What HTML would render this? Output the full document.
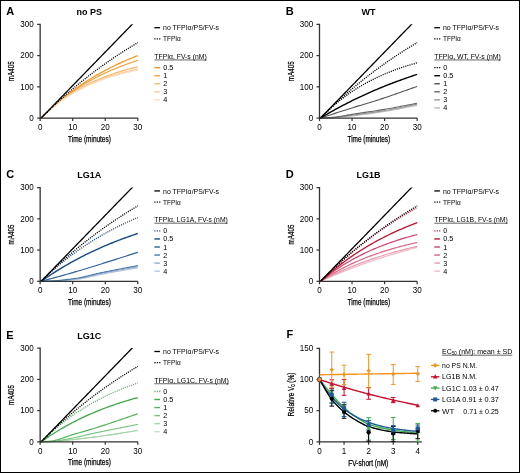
<!DOCTYPE html><html><head><meta charset="utf-8"><style>html,body{margin:0;padding:0;background:#fff;width:520px;height:473px;overflow:hidden}</style></head><body><svg width="520" height="473" viewBox="0 0 520 473" style="display:block;filter:blur(0.3px);font-family:'Liberation Sans',sans-serif">
<rect x="0" y="0" width="520" height="473" fill="#fff"/>
<clipPath id="clipA"><rect x="39.15" y="24.29" width="110" height="96"/></clipPath>
<text x="6.35" y="14.86" font-size="11" font-weight="700" text-anchor="start" fill="#000" >A</text>
<text x="89.15" y="15.06" font-size="9" font-weight="700" text-anchor="middle" fill="#000" >no PS</text>
<g clip-path="url(#clipA)" fill="none" stroke-linecap="butt">
<path d="M40.15,118.06 L41.78,117.41 L43.41,115.79 L45.03,114.20 L46.66,112.64 L48.29,111.10 L49.91,109.59 L51.54,108.10 L53.17,106.63 L54.80,105.19 L56.42,103.77 L58.05,102.37 L59.68,101.00 L61.31,99.65 L62.94,98.32 L64.56,97.01 L66.19,95.73 L67.82,94.46 L69.44,93.22 L71.07,91.99 L72.70,90.78 L74.33,89.60 L75.96,88.43 L77.58,87.28 L79.21,86.15 L80.84,85.04 L82.47,83.95 L84.09,82.87 L85.72,81.81 L87.35,80.77 L88.97,79.75 L90.60,78.74 L92.23,77.74 L93.86,76.77 L95.49,75.81 L97.11,74.86 L98.74,73.93 L100.37,73.02 L102.00,72.12 L103.62,71.23 L105.25,70.36 L106.88,69.50 L108.50,68.66 L110.13,67.83 L111.76,67.02 L113.39,66.21 L115.02,65.42 L116.64,64.64 L118.27,63.88 L119.90,63.13 L121.53,62.39 L123.15,61.66 L124.78,60.94 L126.41,60.24 L128.03,59.54 L129.66,58.86 L131.29,58.19 L132.92,57.53 L134.55,56.88 L136.17,56.24 L137.80,55.61" stroke="#f7941d" stroke-width="1.2"/>
<path d="M40.15,118.06 L41.78,117.41 L43.41,115.80 L45.03,114.22 L46.66,112.67 L48.29,111.15 L49.91,109.66 L51.54,108.20 L53.17,106.76 L54.80,105.36 L56.42,103.98 L58.05,102.63 L59.68,101.30 L61.31,100.00 L62.94,98.73 L64.56,97.48 L66.19,96.25 L67.82,95.05 L69.44,93.87 L71.07,92.72 L72.70,91.58 L74.33,90.47 L75.96,89.38 L77.58,88.31 L79.21,87.26 L80.84,86.23 L82.47,85.22 L84.09,84.23 L85.72,83.26 L87.35,82.31 L88.97,81.38 L90.60,80.47 L92.23,79.57 L93.86,78.69 L95.49,77.82 L97.11,76.98 L98.74,76.15 L100.37,75.33 L102.00,74.54 L103.62,73.75 L105.25,72.99 L106.88,72.23 L108.50,71.49 L110.13,70.77 L111.76,70.06 L113.39,69.36 L115.02,68.68 L116.64,68.01 L118.27,67.35 L119.90,66.71 L121.53,66.08 L123.15,65.46 L124.78,64.85 L126.41,64.26 L128.03,63.67 L129.66,63.10 L131.29,62.54 L132.92,61.98 L134.55,61.44 L136.17,60.91 L137.80,60.39" stroke="#f8a23e" stroke-width="1.2"/>
<path d="M40.15,118.06 L41.78,117.41 L43.41,115.80 L45.03,114.24 L46.66,112.71 L48.29,111.22 L49.91,109.77 L51.54,108.35 L53.17,106.97 L54.80,105.61 L56.42,104.30 L58.05,103.01 L59.68,101.76 L61.31,100.53 L62.94,99.34 L64.56,98.17 L66.19,97.03 L67.82,95.92 L69.44,94.84 L71.07,93.78 L72.70,92.75 L74.33,91.74 L75.96,90.76 L77.58,89.80 L79.21,88.87 L80.84,87.95 L82.47,87.06 L84.09,86.19 L85.72,85.35 L87.35,84.52 L88.97,83.71 L90.60,82.92 L92.23,82.15 L93.86,81.40 L95.49,80.67 L97.11,79.96 L98.74,79.26 L100.37,78.58 L102.00,77.92 L103.62,77.27 L105.25,76.64 L106.88,76.02 L108.50,75.42 L110.13,74.83 L111.76,74.26 L113.39,73.70 L115.02,73.15 L116.64,72.62 L118.27,72.10 L119.90,71.59 L121.53,71.10 L123.15,70.62 L124.78,70.14 L126.41,69.68 L128.03,69.24 L129.66,68.80 L131.29,68.37 L132.92,67.95 L134.55,67.55 L136.17,67.15 L137.80,66.76" stroke="#fab66b" stroke-width="1.2"/>
<path d="M40.15,118.06 L41.78,117.41 L43.41,115.81 L45.03,114.25 L46.66,112.73 L48.29,111.25 L49.91,109.81 L51.54,108.41 L53.17,107.05 L54.80,105.72 L56.42,104.42 L58.05,103.16 L59.68,101.93 L61.31,100.74 L62.94,99.57 L64.56,98.44 L66.19,97.33 L67.82,96.26 L69.44,95.21 L71.07,94.19 L72.70,93.20 L74.33,92.23 L75.96,91.29 L77.58,90.37 L79.21,89.48 L80.84,88.60 L82.47,87.76 L84.09,86.93 L85.72,86.13 L87.35,85.35 L88.97,84.58 L90.60,83.84 L92.23,83.12 L93.86,82.41 L95.49,81.73 L97.11,81.06 L98.74,80.41 L100.37,79.78 L102.00,79.16 L103.62,78.56 L105.25,77.98 L106.88,77.41 L108.50,76.85 L110.13,76.31 L111.76,75.79 L113.39,75.27 L115.02,74.78 L116.64,74.29 L118.27,73.82 L119.90,73.36 L121.53,72.91 L123.15,72.47 L124.78,72.05 L126.41,71.63 L128.03,71.23 L129.66,70.83 L131.29,70.45 L132.92,70.08 L134.55,69.72 L136.17,69.36 L137.80,69.02" stroke="#fcca95" stroke-width="1.2"/>
<path d="M40.15,118.06 L41.78,117.41 L43.41,115.81 L45.03,114.25 L46.66,112.74 L48.29,111.27 L49.91,109.83 L51.54,108.44 L53.17,107.08 L54.80,105.77 L56.42,104.48 L58.05,103.23 L59.68,102.02 L61.31,100.84 L62.94,99.69 L64.56,98.57 L66.19,97.48 L67.82,96.42 L69.44,95.39 L71.07,94.39 L72.70,93.41 L74.33,92.47 L75.96,91.54 L77.58,90.65 L79.21,89.77 L80.84,88.92 L82.47,88.10 L84.09,87.29 L85.72,86.51 L87.35,85.75 L88.97,85.01 L90.60,84.29 L92.23,83.59 L93.86,82.91 L95.49,82.24 L97.11,81.60 L98.74,80.97 L100.37,80.36 L102.00,79.76 L103.62,79.19 L105.25,78.62 L106.88,78.08 L108.50,77.54 L110.13,77.03 L111.76,76.52 L113.39,76.03 L115.02,75.56 L116.64,75.09 L118.27,74.64 L119.90,74.20 L121.53,73.77 L123.15,73.36 L124.78,72.95 L126.41,72.56 L128.03,72.18 L129.66,71.81 L131.29,71.44 L132.92,71.09 L134.55,70.75 L136.17,70.41 L137.80,70.09" stroke="#fddcb8" stroke-width="1.2"/>
<path d="M40.15,118.06 L41.78,117.41 L43.41,115.78 L45.03,114.17 L46.66,112.57 L48.29,110.99 L49.91,109.42 L51.54,107.87 L53.17,106.32 L54.80,104.80 L56.42,103.29 L58.05,101.79 L59.68,100.30 L61.31,98.83 L62.94,97.37 L64.56,95.92 L66.19,94.49 L67.82,93.07 L69.44,91.66 L71.07,90.26 L72.70,88.88 L74.33,87.51 L75.96,86.15 L77.58,84.81 L79.21,83.47 L80.84,82.15 L82.47,80.84 L84.09,79.54 L85.72,78.25 L87.35,76.98 L88.97,75.72 L90.60,74.46 L92.23,73.22 L93.86,71.99 L95.49,70.77 L97.11,69.56 L98.74,68.37 L100.37,67.18 L102.00,66.00 L103.62,64.84 L105.25,63.68 L106.88,62.54 L108.50,61.40 L110.13,60.28 L111.76,59.17 L113.39,58.06 L115.02,56.97 L116.64,55.88 L118.27,54.81 L119.90,53.74 L121.53,52.69 L123.15,51.64 L124.78,50.60 L126.41,49.58 L128.03,48.56 L129.66,47.55 L131.29,46.55 L132.92,45.56 L134.55,44.58 L136.17,43.60 L137.80,42.64" stroke="#000" stroke-width="1.3" stroke-dasharray="1.1 1.1"/>
<path d="M40.15,118.06 L41.78,117.39 L43.41,115.71 L45.03,114.04 L46.66,112.36 L48.29,110.69 L49.91,109.01 L51.54,107.34 L53.17,105.66 L54.80,103.99 L56.42,102.31 L58.05,100.64 L59.68,98.96 L61.31,97.29 L62.94,95.61 L64.56,93.94 L66.19,92.26 L67.82,90.59 L69.44,88.91 L71.07,87.24 L72.70,85.56 L74.33,83.89 L75.96,82.21 L77.58,80.54 L79.21,78.86 L80.84,77.19 L82.47,75.51 L84.09,73.84 L85.72,72.16 L87.35,70.49 L88.97,68.81 L90.60,67.14 L92.23,65.46 L93.86,63.79 L95.49,62.11 L97.11,60.44 L98.74,58.76 L100.37,57.09 L102.00,55.41 L103.62,53.73 L105.25,52.06 L106.88,50.38 L108.50,48.71 L110.13,47.03 L111.76,45.36 L113.39,43.68 L115.02,42.01 L116.64,40.33 L118.27,38.66 L119.90,36.98 L121.53,35.31 L123.15,33.63 L124.78,31.96 L126.41,30.28 L128.03,28.61 L129.66,26.93 L131.29,25.26 L132.92,23.58 L134.55,21.91 L136.17,20.23 L137.80,18.56" stroke="#000" stroke-width="1.3"/>
</g>
<path d="M37.15,24.39 H40.15 V118.06 H137.8" fill="none" stroke="#333" stroke-width="1.3"/>
<path d="M37.15,86.84 H40.15" stroke="#333" stroke-width="1.2"/>
<path d="M37.15,55.61 H40.15" stroke="#333" stroke-width="1.2"/>
<path d="M37.15,118.06 H40.15" stroke="#333" stroke-width="1.2"/>
<path d="M40.15,118.06 V121.06" stroke="#333" stroke-width="1.2"/>
<text transform="translate(40.15,129.76) scale(0.92,1)" font-size="8.8" font-weight="400" text-anchor="middle" fill="#000" >0</text>
<path d="M72.70,118.06 V121.06" stroke="#333" stroke-width="1.2"/>
<text transform="translate(72.70,129.76) scale(0.92,1)" font-size="8.8" font-weight="400" text-anchor="middle" fill="#000" >10</text>
<path d="M105.25,118.06 V121.06" stroke="#333" stroke-width="1.2"/>
<text transform="translate(105.25,129.76) scale(0.92,1)" font-size="8.8" font-weight="400" text-anchor="middle" fill="#000" >20</text>
<path d="M137.80,118.06 V121.06" stroke="#333" stroke-width="1.2"/>
<text transform="translate(137.80,129.76) scale(0.92,1)" font-size="8.8" font-weight="400" text-anchor="middle" fill="#000" >30</text>
<text transform="translate(33.85,120.76) scale(0.92,1)" font-size="8.8" font-weight="400" text-anchor="end" fill="#000" >0</text>
<text transform="translate(33.85,89.54) scale(0.92,1)" font-size="8.8" font-weight="400" text-anchor="end" fill="#000" >100</text>
<text transform="translate(33.85,58.31) scale(0.92,1)" font-size="8.8" font-weight="400" text-anchor="end" fill="#000" >200</text>
<text transform="translate(33.85,27.09) scale(0.92,1)" font-size="8.8" font-weight="400" text-anchor="end" fill="#000" >300</text>
<text x="89.45" y="141.66" font-size="8.6" font-weight="400" text-anchor="middle" fill="#000" stroke="#000" stroke-width="0.25" textLength="42.7" lengthAdjust="spacingAndGlyphs" >Time (minutes)</text>
<text transform="translate(14.25,71.26) rotate(-90)" x="0" y="0" font-size="9.8" text-anchor="middle" fill="#000" stroke="#000" stroke-width="0.25" textLength="19.8" lengthAdjust="spacingAndGlyphs">mA405</text>
<path d="M154.35,27.70 h5.6" stroke="#000" stroke-width="1.3"/>
<text x="163.05" y="30.30" font-size="7.9" font-weight="400" text-anchor="start" fill="#000" textLength="56.0" lengthAdjust="spacingAndGlyphs" >no TFPIα/PS/FV-s</text>
<path d="M154.35,38.80 h6" stroke="#000" stroke-width="1.3" stroke-dasharray="1.2 1.2"/>
<text x="163.05" y="41.40" font-size="7.9" font-weight="400" text-anchor="start" fill="#000" textLength="17.8" lengthAdjust="spacingAndGlyphs" >TFPIα</text>
<text x="154.35" y="59.16" font-size="7.9" font-weight="400" text-anchor="start" fill="#000" textLength="52.3" lengthAdjust="spacingAndGlyphs" >TFPIα, FV-s (nM)</text>
<path d="M154.35,59.96 h52.3" stroke="#000" stroke-width="0.6"/>
<path d="M154.35,67.66 h5.6" stroke="#f7941d" stroke-width="1.4"/>
<text x="163.25" y="70.16" font-size="7.3" font-weight="400" text-anchor="start" fill="#000" >0.5</text>
<path d="M154.35,75.71 h5.6" stroke="#f8a23e" stroke-width="1.4"/>
<text x="163.25" y="78.21" font-size="7.3" font-weight="400" text-anchor="start" fill="#000" >1</text>
<path d="M154.35,83.76 h5.6" stroke="#fab66b" stroke-width="1.4"/>
<text x="163.25" y="86.26" font-size="7.3" font-weight="400" text-anchor="start" fill="#000" >2</text>
<path d="M154.35,91.81 h5.6" stroke="#fcca95" stroke-width="1.4"/>
<text x="163.25" y="94.31" font-size="7.3" font-weight="400" text-anchor="start" fill="#000" >3</text>
<path d="M154.35,99.86 h5.6" stroke="#fddcb8" stroke-width="1.4"/>
<text x="163.25" y="102.36" font-size="7.3" font-weight="400" text-anchor="start" fill="#000" >4</text>
<clipPath id="clipB"><rect x="318.5" y="24.29" width="110" height="96"/></clipPath>
<text x="285.70" y="14.86" font-size="11" font-weight="700" text-anchor="start" fill="#000" >B</text>
<text x="368.50" y="15.06" font-size="9" font-weight="700" text-anchor="middle" fill="#000" >WT</text>
<g clip-path="url(#clipB)" fill="none" stroke-linecap="butt">
<path d="M319.50,118.06 L321.13,118.05 L322.75,118.03 L324.38,118.01 L326.01,117.98 L327.64,117.96 L329.26,117.93 L330.89,117.89 L332.52,117.82 L334.15,117.73 L335.77,117.62 L337.40,117.49 L339.03,117.35 L340.66,117.19 L342.29,117.01 L343.91,116.83 L345.54,116.65 L347.17,116.46 L348.80,116.27 L350.42,116.08 L352.05,115.89 L353.68,115.71 L355.31,115.53 L356.93,115.34 L358.56,115.14 L360.19,114.95 L361.81,114.74 L363.44,114.53 L365.07,114.32 L366.70,114.11 L368.32,113.89 L369.95,113.66 L371.58,113.43 L373.21,113.20 L374.84,112.96 L376.46,112.72 L378.09,112.48 L379.72,112.23 L381.35,111.98 L382.97,111.73 L384.60,111.47 L386.23,111.21 L387.86,110.94 L389.48,110.66 L391.11,110.38 L392.74,110.08 L394.37,109.78 L395.99,109.48 L397.62,109.17 L399.25,108.85 L400.88,108.53 L402.50,108.21 L404.13,107.88 L405.76,107.55 L407.38,107.23 L409.01,106.90 L410.64,106.57 L412.27,106.25 L413.89,105.93 L415.52,105.61 L417.15,105.29" stroke="#bbb" stroke-width="1.1"/>
<path d="M319.50,118.06 L321.13,118.04 L322.75,117.99 L324.38,117.95 L326.01,117.90 L327.64,117.85 L329.26,117.79 L330.89,117.72 L332.52,117.61 L334.15,117.49 L335.77,117.34 L337.40,117.17 L339.03,116.98 L340.66,116.78 L342.29,116.57 L343.91,116.35 L345.54,116.12 L347.17,115.89 L348.80,115.66 L350.42,115.44 L352.05,115.22 L353.68,115.01 L355.31,114.80 L356.93,114.59 L358.56,114.38 L360.19,114.16 L361.81,113.94 L363.44,113.72 L365.07,113.50 L366.70,113.27 L368.32,113.05 L369.95,112.81 L371.58,112.58 L373.21,112.34 L374.84,112.10 L376.46,111.86 L378.09,111.61 L379.72,111.35 L381.35,111.10 L382.97,110.84 L384.60,110.57 L386.23,110.30 L387.86,110.02 L389.48,109.73 L391.11,109.44 L392.74,109.13 L394.37,108.82 L395.99,108.51 L397.62,108.19 L399.25,107.86 L400.88,107.53 L402.50,107.20 L404.13,106.87 L405.76,106.53 L407.38,106.19 L409.01,105.86 L410.64,105.52 L412.27,105.19 L413.89,104.86 L415.52,104.53 L417.15,104.20" stroke="#999" stroke-width="1.1"/>
<path d="M319.50,118.06 L321.13,118.03 L322.75,117.96 L324.38,117.89 L326.01,117.82 L327.64,117.74 L329.26,117.65 L330.89,117.54 L332.52,117.40 L334.15,117.23 L335.77,117.03 L337.40,116.80 L339.03,116.55 L340.66,116.29 L342.29,116.02 L343.91,115.73 L345.54,115.45 L347.17,115.16 L348.80,114.88 L350.42,114.60 L352.05,114.34 L353.68,114.09 L355.31,113.85 L356.93,113.60 L358.56,113.36 L360.19,113.12 L361.81,112.88 L363.44,112.64 L365.07,112.39 L366.70,112.15 L368.32,111.91 L369.95,111.66 L371.58,111.42 L373.21,111.17 L374.84,110.92 L376.46,110.67 L378.09,110.41 L379.72,110.15 L381.35,109.89 L382.97,109.63 L384.60,109.36 L386.23,109.08 L387.86,108.80 L389.48,108.52 L391.11,108.22 L392.74,107.93 L394.37,107.63 L395.99,107.33 L397.62,107.02 L399.25,106.71 L400.88,106.40 L402.50,106.08 L404.13,105.77 L405.76,105.45 L407.38,105.14 L409.01,104.82 L410.64,104.51 L412.27,104.19 L413.89,103.88 L415.52,103.57 L417.15,103.26" stroke="#6a6a6a" stroke-width="1.1"/>
<path d="M319.50,118.06 L321.13,117.85 L322.75,117.33 L324.38,116.80 L326.01,116.28 L327.64,115.75 L329.26,115.22 L330.89,114.69 L332.52,114.17 L334.15,113.64 L335.77,113.11 L337.40,112.59 L339.03,112.06 L340.66,111.54 L342.29,111.01 L343.91,110.49 L345.54,109.97 L347.17,109.45 L348.80,108.93 L350.42,108.42 L352.05,107.91 L353.68,107.40 L355.31,106.89 L356.93,106.39 L358.56,105.90 L360.19,105.41 L361.81,104.92 L363.44,104.43 L365.07,103.95 L366.70,103.46 L368.32,102.97 L369.95,102.48 L371.58,101.98 L373.21,101.49 L374.84,100.98 L376.46,100.47 L378.09,99.95 L379.72,99.43 L381.35,98.89 L382.97,98.36 L384.60,97.81 L386.23,97.26 L387.86,96.71 L389.48,96.15 L391.11,95.59 L392.74,95.03 L394.37,94.46 L395.99,93.89 L397.62,93.32 L399.25,92.75 L400.88,92.17 L402.50,91.59 L404.13,91.02 L405.76,90.44 L407.38,89.86 L409.01,89.29 L410.64,88.71 L412.27,88.14 L413.89,87.56 L415.52,86.99 L417.15,86.43" stroke="#555" stroke-width="1.1"/>
<path d="M319.50,118.06 L321.13,117.67 L322.75,116.69 L324.38,115.72 L326.01,114.76 L327.64,113.81 L329.26,112.87 L330.89,111.94 L332.52,111.02 L334.15,110.11 L335.77,109.21 L337.40,108.32 L339.03,107.44 L340.66,106.57 L342.29,105.71 L343.91,104.85 L345.54,104.01 L347.17,103.17 L348.80,102.34 L350.42,101.53 L352.05,100.72 L353.68,99.91 L355.31,99.12 L356.93,98.33 L358.56,97.56 L360.19,96.79 L361.81,96.03 L363.44,95.27 L365.07,94.53 L366.70,93.79 L368.32,93.06 L369.95,92.34 L371.58,91.63 L373.21,90.92 L374.84,90.22 L376.46,89.53 L378.09,88.84 L379.72,88.16 L381.35,87.49 L382.97,86.83 L384.60,86.17 L386.23,85.52 L387.86,84.88 L389.48,84.24 L391.11,83.61 L392.74,82.99 L394.37,82.37 L395.99,81.76 L397.62,81.16 L399.25,80.56 L400.88,79.97 L402.50,79.39 L404.13,78.81 L405.76,78.23 L407.38,77.67 L409.01,77.11 L410.64,76.55 L412.27,76.00 L413.89,75.46 L415.52,74.92 L417.15,74.39" stroke="#000" stroke-width="1.4"/>
<path d="M319.50,118.06 L321.13,117.39 L322.75,115.74 L324.38,114.12 L326.01,112.55 L327.64,111.00 L329.26,109.49 L330.89,108.02 L332.52,106.58 L334.15,105.17 L335.77,103.79 L337.40,102.44 L339.03,101.12 L340.66,99.83 L342.29,98.57 L343.91,97.34 L345.54,96.14 L347.17,94.96 L348.80,93.81 L350.42,92.68 L352.05,91.58 L353.68,90.50 L355.31,89.45 L356.93,88.42 L358.56,87.41 L360.19,86.43 L361.81,85.47 L363.44,84.53 L365.07,83.61 L366.70,82.71 L368.32,81.83 L369.95,80.97 L371.58,80.13 L373.21,79.31 L374.84,78.50 L376.46,77.72 L378.09,76.95 L379.72,76.20 L381.35,75.47 L382.97,74.75 L384.60,74.05 L386.23,73.36 L387.86,72.69 L389.48,72.03 L391.11,71.39 L392.74,70.76 L394.37,70.15 L395.99,69.55 L397.62,68.96 L399.25,68.39 L400.88,67.83 L402.50,67.28 L404.13,66.75 L405.76,66.22 L407.38,65.71 L409.01,65.21 L410.64,64.72 L412.27,64.24 L413.89,63.77 L415.52,63.31 L417.15,62.87" stroke="#000" stroke-width="1.3" stroke-dasharray="1.1 1.1"/>
<path d="M319.50,118.06 L321.13,117.41 L322.75,115.78 L324.38,114.17 L326.01,112.57 L327.64,110.99 L329.26,109.42 L330.89,107.87 L332.52,106.32 L334.15,104.80 L335.77,103.29 L337.40,101.79 L339.03,100.30 L340.66,98.83 L342.29,97.37 L343.91,95.92 L345.54,94.49 L347.17,93.07 L348.80,91.66 L350.42,90.26 L352.05,88.88 L353.68,87.51 L355.31,86.15 L356.93,84.81 L358.56,83.47 L360.19,82.15 L361.81,80.84 L363.44,79.54 L365.07,78.25 L366.70,76.98 L368.32,75.72 L369.95,74.46 L371.58,73.22 L373.21,71.99 L374.84,70.77 L376.46,69.56 L378.09,68.37 L379.72,67.18 L381.35,66.00 L382.97,64.84 L384.60,63.68 L386.23,62.54 L387.86,61.40 L389.48,60.28 L391.11,59.17 L392.74,58.06 L394.37,56.97 L395.99,55.88 L397.62,54.81 L399.25,53.74 L400.88,52.69 L402.50,51.64 L404.13,50.60 L405.76,49.58 L407.38,48.56 L409.01,47.55 L410.64,46.55 L412.27,45.56 L413.89,44.58 L415.52,43.60 L417.15,42.64" stroke="#000" stroke-width="1.3" stroke-dasharray="1.1 1.1"/>
<path d="M319.50,118.06 L321.13,117.39 L322.75,115.71 L324.38,114.04 L326.01,112.36 L327.64,110.69 L329.26,109.01 L330.89,107.34 L332.52,105.66 L334.15,103.99 L335.77,102.31 L337.40,100.64 L339.03,98.96 L340.66,97.29 L342.29,95.61 L343.91,93.94 L345.54,92.26 L347.17,90.59 L348.80,88.91 L350.42,87.24 L352.05,85.56 L353.68,83.89 L355.31,82.21 L356.93,80.54 L358.56,78.86 L360.19,77.19 L361.81,75.51 L363.44,73.84 L365.07,72.16 L366.70,70.49 L368.32,68.81 L369.95,67.14 L371.58,65.46 L373.21,63.79 L374.84,62.11 L376.46,60.44 L378.09,58.76 L379.72,57.09 L381.35,55.41 L382.97,53.73 L384.60,52.06 L386.23,50.38 L387.86,48.71 L389.48,47.03 L391.11,45.36 L392.74,43.68 L394.37,42.01 L395.99,40.33 L397.62,38.66 L399.25,36.98 L400.88,35.31 L402.50,33.63 L404.13,31.96 L405.76,30.28 L407.38,28.61 L409.01,26.93 L410.64,25.26 L412.27,23.58 L413.89,21.91 L415.52,20.23 L417.15,18.56" stroke="#000" stroke-width="1.3"/>
</g>
<path d="M316.5,24.39 H319.5 V118.06 H417.15" fill="none" stroke="#333" stroke-width="1.3"/>
<path d="M316.5,86.84 H319.5" stroke="#333" stroke-width="1.2"/>
<path d="M316.5,55.61 H319.5" stroke="#333" stroke-width="1.2"/>
<path d="M316.5,118.06 H319.5" stroke="#333" stroke-width="1.2"/>
<path d="M319.50,118.06 V121.06" stroke="#333" stroke-width="1.2"/>
<text transform="translate(319.50,129.76) scale(0.92,1)" font-size="8.8" font-weight="400" text-anchor="middle" fill="#000" >0</text>
<path d="M352.05,118.06 V121.06" stroke="#333" stroke-width="1.2"/>
<text transform="translate(352.05,129.76) scale(0.92,1)" font-size="8.8" font-weight="400" text-anchor="middle" fill="#000" >10</text>
<path d="M384.60,118.06 V121.06" stroke="#333" stroke-width="1.2"/>
<text transform="translate(384.60,129.76) scale(0.92,1)" font-size="8.8" font-weight="400" text-anchor="middle" fill="#000" >20</text>
<path d="M417.15,118.06 V121.06" stroke="#333" stroke-width="1.2"/>
<text transform="translate(417.15,129.76) scale(0.92,1)" font-size="8.8" font-weight="400" text-anchor="middle" fill="#000" >30</text>
<text transform="translate(313.20,120.76) scale(0.92,1)" font-size="8.8" font-weight="400" text-anchor="end" fill="#000" >0</text>
<text transform="translate(313.20,89.54) scale(0.92,1)" font-size="8.8" font-weight="400" text-anchor="end" fill="#000" >100</text>
<text transform="translate(313.20,58.31) scale(0.92,1)" font-size="8.8" font-weight="400" text-anchor="end" fill="#000" >200</text>
<text transform="translate(313.20,27.09) scale(0.92,1)" font-size="8.8" font-weight="400" text-anchor="end" fill="#000" >300</text>
<text x="368.80" y="141.66" font-size="8.6" font-weight="400" text-anchor="middle" fill="#000" stroke="#000" stroke-width="0.25" textLength="42.7" lengthAdjust="spacingAndGlyphs" >Time (minutes)</text>
<text transform="translate(293.6,71.26) rotate(-90)" x="0" y="0" font-size="9.8" text-anchor="middle" fill="#000" stroke="#000" stroke-width="0.25" textLength="19.8" lengthAdjust="spacingAndGlyphs">mA405</text>
<path d="M434.3,27.70 h5.6" stroke="#000" stroke-width="1.3"/>
<text x="443.00" y="30.30" font-size="7.9" font-weight="400" text-anchor="start" fill="#000" textLength="56.0" lengthAdjust="spacingAndGlyphs" >no TFPIα/PS/FV-s</text>
<path d="M434.3,38.80 h6" stroke="#000" stroke-width="1.3" stroke-dasharray="1.2 1.2"/>
<text x="443.00" y="41.40" font-size="7.9" font-weight="400" text-anchor="start" fill="#000" textLength="17.8" lengthAdjust="spacingAndGlyphs" >TFPIα</text>
<text x="434.30" y="59.16" font-size="7.9" font-weight="400" text-anchor="start" fill="#000" textLength="66.5" lengthAdjust="spacingAndGlyphs" >TFPIα, WT, FV-s (nM)</text>
<path d="M434.3,59.96 h66.5" stroke="#000" stroke-width="0.6"/>
<path d="M434.3,67.66 h6" stroke="#000" stroke-width="1.4" stroke-dasharray="1.2 1.2"/>
<text x="443.20" y="70.16" font-size="7.3" font-weight="400" text-anchor="start" fill="#000" >0</text>
<path d="M434.3,75.71 h5.6" stroke="#000" stroke-width="1.4"/>
<text x="443.20" y="78.21" font-size="7.3" font-weight="400" text-anchor="start" fill="#000" >0.5</text>
<path d="M434.3,83.76 h5.6" stroke="#555" stroke-width="1.4"/>
<text x="443.20" y="86.26" font-size="7.3" font-weight="400" text-anchor="start" fill="#000" >1</text>
<path d="M434.3,91.81 h5.6" stroke="#6a6a6a" stroke-width="1.4"/>
<text x="443.20" y="94.31" font-size="7.3" font-weight="400" text-anchor="start" fill="#000" >2</text>
<path d="M434.3,99.86 h5.6" stroke="#999" stroke-width="1.4"/>
<text x="443.20" y="102.36" font-size="7.3" font-weight="400" text-anchor="start" fill="#000" >3</text>
<path d="M434.3,107.91 h5.6" stroke="#bbb" stroke-width="1.4"/>
<text x="443.20" y="110.41" font-size="7.3" font-weight="400" text-anchor="start" fill="#000" >4</text>
<clipPath id="clipC"><rect x="39.15" y="187.53" width="110" height="96"/></clipPath>
<text x="6.35" y="178.10" font-size="11" font-weight="700" text-anchor="start" fill="#000" >C</text>
<text x="89.15" y="178.30" font-size="9" font-weight="700" text-anchor="middle" fill="#000" >LG1A</text>
<g clip-path="url(#clipC)" fill="none" stroke-linecap="butt">
<path d="M40.15,281.30 L41.78,281.29 L43.41,281.27 L45.03,281.24 L46.66,281.22 L48.29,281.20 L49.91,281.17 L51.54,281.13 L53.17,281.08 L54.80,281.02 L56.42,280.95 L58.05,280.88 L59.68,280.79 L61.31,280.69 L62.94,280.59 L64.56,280.48 L66.19,280.36 L67.82,280.23 L69.44,280.10 L71.07,279.95 L72.70,279.81 L74.33,279.65 L75.96,279.49 L77.58,279.32 L79.21,279.11 L80.84,278.85 L82.47,278.57 L84.09,278.25 L85.72,277.91 L87.35,277.55 L88.97,277.17 L90.60,276.79 L92.23,276.40 L93.86,276.01 L95.49,275.63 L97.11,275.25 L98.74,274.90 L100.37,274.56 L102.00,274.24 L103.62,273.93 L105.25,273.62 L106.88,273.32 L108.50,273.02 L110.13,272.72 L111.76,272.42 L113.39,272.12 L115.02,271.83 L116.64,271.54 L118.27,271.25 L119.90,270.96 L121.53,270.67 L123.15,270.38 L124.78,270.09 L126.41,269.80 L128.03,269.51 L129.66,269.22 L131.29,268.93 L132.92,268.64 L134.55,268.35 L136.17,268.06 L137.80,267.77" stroke="#b5c7dc" stroke-width="1.1"/>
<path d="M40.15,281.30 L41.78,281.28 L43.41,281.25 L45.03,281.21 L46.66,281.17 L48.29,281.13 L49.91,281.08 L51.54,281.03 L53.17,280.95 L54.80,280.87 L56.42,280.78 L58.05,280.67 L59.68,280.55 L61.31,280.42 L62.94,280.28 L64.56,280.14 L66.19,279.98 L67.82,279.81 L69.44,279.64 L71.07,279.46 L72.70,279.28 L74.33,279.08 L75.96,278.88 L77.58,278.67 L79.21,278.42 L80.84,278.14 L82.47,277.82 L84.09,277.48 L85.72,277.11 L87.35,276.73 L88.97,276.33 L90.60,275.93 L92.23,275.53 L93.86,275.12 L95.49,274.73 L97.11,274.34 L98.74,273.97 L100.37,273.63 L102.00,273.30 L103.62,272.98 L105.25,272.67 L106.88,272.36 L108.50,272.05 L110.13,271.74 L111.76,271.44 L113.39,271.15 L115.02,270.85 L116.64,270.56 L118.27,270.27 L119.90,269.98 L121.53,269.69 L123.15,269.40 L124.78,269.11 L126.41,268.83 L128.03,268.54 L129.66,268.25 L131.29,267.97 L132.92,267.68 L134.55,267.39 L136.17,267.10 L137.80,266.80" stroke="#93adc9" stroke-width="1.1"/>
<path d="M40.15,281.30 L41.78,281.28 L43.41,281.23 L45.03,281.19 L46.66,281.14 L48.29,281.09 L49.91,281.03 L51.54,280.96 L53.17,280.87 L54.80,280.76 L56.42,280.64 L58.05,280.50 L59.68,280.34 L61.31,280.18 L62.94,280.00 L64.56,279.81 L66.19,279.62 L67.82,279.41 L69.44,279.19 L71.07,278.97 L72.70,278.74 L74.33,278.51 L75.96,278.27 L77.58,278.03 L79.21,277.75 L80.84,277.44 L82.47,277.11 L84.09,276.75 L85.72,276.38 L87.35,275.99 L88.97,275.59 L90.60,275.19 L92.23,274.78 L93.86,274.38 L95.49,273.98 L97.11,273.59 L98.74,273.21 L100.37,272.85 L102.00,272.51 L103.62,272.18 L105.25,271.84 L106.88,271.52 L108.50,271.19 L110.13,270.87 L111.76,270.55 L113.39,270.24 L115.02,269.92 L116.64,269.61 L118.27,269.30 L119.90,268.99 L121.53,268.68 L123.15,268.37 L124.78,268.07 L126.41,267.76 L128.03,267.45 L129.66,267.15 L131.29,266.84 L132.92,266.53 L134.55,266.22 L136.17,265.91 L137.80,265.60" stroke="#4a7aab" stroke-width="1.1"/>
<path d="M40.15,281.30 L41.78,281.13 L43.41,280.69 L45.03,280.26 L46.66,279.82 L48.29,279.39 L49.91,278.95 L51.54,278.52 L53.17,278.08 L54.80,277.64 L56.42,277.20 L58.05,276.75 L59.68,276.30 L61.31,275.85 L62.94,275.40 L64.56,274.94 L66.19,274.49 L67.82,274.03 L69.44,273.57 L71.07,273.11 L72.70,272.64 L74.33,272.17 L75.96,271.70 L77.58,271.23 L79.21,270.75 L80.84,270.26 L82.47,269.78 L84.09,269.28 L85.72,268.79 L87.35,268.28 L88.97,267.78 L90.60,267.27 L92.23,266.76 L93.86,266.25 L95.49,265.74 L97.11,265.23 L98.74,264.72 L100.37,264.21 L102.00,263.70 L103.62,263.19 L105.25,262.67 L106.88,262.16 L108.50,261.65 L110.13,261.13 L111.76,260.61 L113.39,260.10 L115.02,259.58 L116.64,259.06 L118.27,258.55 L119.90,258.03 L121.53,257.51 L123.15,256.99 L124.78,256.47 L126.41,255.95 L128.03,255.43 L129.66,254.91 L131.29,254.39 L132.92,253.88 L134.55,253.36 L136.17,252.84 L137.80,252.32" stroke="#2f639b" stroke-width="1.2"/>
<path d="M40.15,281.30 L41.78,280.84 L43.41,279.71 L45.03,278.58 L46.66,277.48 L48.29,276.38 L49.91,275.30 L51.54,274.24 L53.17,273.18 L54.80,272.15 L56.42,271.12 L58.05,270.11 L59.68,269.11 L61.31,268.12 L62.94,267.15 L64.56,266.18 L66.19,265.23 L67.82,264.30 L69.44,263.37 L71.07,262.45 L72.70,261.55 L74.33,260.66 L75.96,259.78 L77.58,258.91 L79.21,258.05 L80.84,257.21 L82.47,256.37 L84.09,255.55 L85.72,254.73 L87.35,253.93 L88.97,253.13 L90.60,252.35 L92.23,251.57 L93.86,250.81 L95.49,250.05 L97.11,249.31 L98.74,248.57 L100.37,247.85 L102.00,247.13 L103.62,246.42 L105.25,245.72 L106.88,245.03 L108.50,244.35 L110.13,243.68 L111.76,243.01 L113.39,242.36 L115.02,241.71 L116.64,241.07 L118.27,240.44 L119.90,239.81 L121.53,239.20 L123.15,238.59 L124.78,237.99 L126.41,237.40 L128.03,236.81 L129.66,236.24 L131.29,235.67 L132.92,235.10 L134.55,234.55 L136.17,234.00 L137.80,233.46" stroke="#164a87" stroke-width="1.4"/>
<path d="M40.15,281.30 L41.78,280.67 L43.41,279.09 L45.03,277.54 L46.66,276.02 L48.29,274.51 L49.91,273.03 L51.54,271.56 L53.17,270.12 L54.80,268.70 L56.42,267.30 L58.05,265.91 L59.68,264.55 L61.31,263.21 L62.94,261.88 L64.56,260.58 L66.19,259.29 L67.82,258.02 L69.44,256.77 L71.07,255.54 L72.70,254.33 L74.33,253.13 L75.96,251.95 L77.58,250.78 L79.21,249.63 L80.84,248.50 L82.47,247.39 L84.09,246.29 L85.72,245.20 L87.35,244.13 L88.97,243.08 L90.60,242.04 L92.23,241.02 L93.86,240.01 L95.49,239.01 L97.11,238.03 L98.74,237.07 L100.37,236.11 L102.00,235.17 L103.62,234.25 L105.25,233.33 L106.88,232.43 L108.50,231.54 L110.13,230.67 L111.76,229.81 L113.39,228.96 L115.02,228.12 L116.64,227.29 L118.27,226.48 L119.90,225.67 L121.53,224.88 L123.15,224.10 L124.78,223.33 L126.41,222.57 L128.03,221.83 L129.66,221.09 L131.29,220.36 L132.92,219.65 L134.55,218.94 L136.17,218.24 L137.80,217.56" stroke="#1d4f8c" stroke-width="1.3" stroke-dasharray="1.1 1.1"/>
<path d="M40.15,281.30 L41.78,280.65 L43.41,279.02 L45.03,277.41 L46.66,275.81 L48.29,274.23 L49.91,272.66 L51.54,271.11 L53.17,269.56 L54.80,268.04 L56.42,266.53 L58.05,265.03 L59.68,263.54 L61.31,262.07 L62.94,260.61 L64.56,259.16 L66.19,257.73 L67.82,256.31 L69.44,254.90 L71.07,253.50 L72.70,252.12 L74.33,250.75 L75.96,249.39 L77.58,248.05 L79.21,246.71 L80.84,245.39 L82.47,244.08 L84.09,242.78 L85.72,241.49 L87.35,240.22 L88.97,238.96 L90.60,237.70 L92.23,236.46 L93.86,235.23 L95.49,234.01 L97.11,232.80 L98.74,231.61 L100.37,230.42 L102.00,229.24 L103.62,228.08 L105.25,226.92 L106.88,225.78 L108.50,224.64 L110.13,223.52 L111.76,222.41 L113.39,221.30 L115.02,220.21 L116.64,219.12 L118.27,218.05 L119.90,216.98 L121.53,215.93 L123.15,214.88 L124.78,213.84 L126.41,212.82 L128.03,211.80 L129.66,210.79 L131.29,209.79 L132.92,208.80 L134.55,207.82 L136.17,206.84 L137.80,205.88" stroke="#000" stroke-width="1.3" stroke-dasharray="1.1 1.1"/>
<path d="M40.15,281.30 L41.78,280.63 L43.41,278.95 L45.03,277.28 L46.66,275.60 L48.29,273.93 L49.91,272.25 L51.54,270.58 L53.17,268.90 L54.80,267.23 L56.42,265.55 L58.05,263.88 L59.68,262.20 L61.31,260.53 L62.94,258.85 L64.56,257.18 L66.19,255.50 L67.82,253.83 L69.44,252.15 L71.07,250.48 L72.70,248.80 L74.33,247.13 L75.96,245.45 L77.58,243.78 L79.21,242.10 L80.84,240.43 L82.47,238.75 L84.09,237.08 L85.72,235.40 L87.35,233.73 L88.97,232.05 L90.60,230.38 L92.23,228.70 L93.86,227.03 L95.49,225.35 L97.11,223.68 L98.74,222.00 L100.37,220.33 L102.00,218.65 L103.62,216.97 L105.25,215.30 L106.88,213.62 L108.50,211.95 L110.13,210.27 L111.76,208.60 L113.39,206.92 L115.02,205.25 L116.64,203.57 L118.27,201.90 L119.90,200.22 L121.53,198.55 L123.15,196.87 L124.78,195.20 L126.41,193.52 L128.03,191.85 L129.66,190.17 L131.29,188.50 L132.92,186.82 L134.55,185.15 L136.17,183.47 L137.80,181.80" stroke="#000" stroke-width="1.3"/>
</g>
<path d="M37.15,187.63 H40.15 V281.3 H137.8" fill="none" stroke="#333" stroke-width="1.3"/>
<path d="M37.15,250.08 H40.15" stroke="#333" stroke-width="1.2"/>
<path d="M37.15,218.85 H40.15" stroke="#333" stroke-width="1.2"/>
<path d="M37.15,281.3 H40.15" stroke="#333" stroke-width="1.2"/>
<path d="M40.15,281.3 V284.3" stroke="#333" stroke-width="1.2"/>
<text transform="translate(40.15,293.00) scale(0.92,1)" font-size="8.8" font-weight="400" text-anchor="middle" fill="#000" >0</text>
<path d="M72.70,281.3 V284.3" stroke="#333" stroke-width="1.2"/>
<text transform="translate(72.70,293.00) scale(0.92,1)" font-size="8.8" font-weight="400" text-anchor="middle" fill="#000" >10</text>
<path d="M105.25,281.3 V284.3" stroke="#333" stroke-width="1.2"/>
<text transform="translate(105.25,293.00) scale(0.92,1)" font-size="8.8" font-weight="400" text-anchor="middle" fill="#000" >20</text>
<path d="M137.80,281.3 V284.3" stroke="#333" stroke-width="1.2"/>
<text transform="translate(137.80,293.00) scale(0.92,1)" font-size="8.8" font-weight="400" text-anchor="middle" fill="#000" >30</text>
<text transform="translate(33.85,284.00) scale(0.92,1)" font-size="8.8" font-weight="400" text-anchor="end" fill="#000" >0</text>
<text transform="translate(33.85,252.78) scale(0.92,1)" font-size="8.8" font-weight="400" text-anchor="end" fill="#000" >100</text>
<text transform="translate(33.85,221.55) scale(0.92,1)" font-size="8.8" font-weight="400" text-anchor="end" fill="#000" >200</text>
<text transform="translate(33.85,190.33) scale(0.92,1)" font-size="8.8" font-weight="400" text-anchor="end" fill="#000" >300</text>
<text x="89.45" y="304.90" font-size="8.6" font-weight="400" text-anchor="middle" fill="#000" stroke="#000" stroke-width="0.25" textLength="42.7" lengthAdjust="spacingAndGlyphs" >Time (minutes)</text>
<text transform="translate(14.25,234.5) rotate(-90)" x="0" y="0" font-size="9.8" text-anchor="middle" fill="#000" stroke="#000" stroke-width="0.25" textLength="19.8" lengthAdjust="spacingAndGlyphs">mA405</text>
<path d="M154.35,190.94 h5.6" stroke="#000" stroke-width="1.3"/>
<text x="163.05" y="193.54" font-size="7.9" font-weight="400" text-anchor="start" fill="#000" textLength="56.0" lengthAdjust="spacingAndGlyphs" >no TFPIα/PS/FV-s</text>
<path d="M154.35,202.04 h6" stroke="#000" stroke-width="1.3" stroke-dasharray="1.2 1.2"/>
<text x="163.05" y="204.64" font-size="7.9" font-weight="400" text-anchor="start" fill="#000" textLength="17.8" lengthAdjust="spacingAndGlyphs" >TFPIα</text>
<text x="154.35" y="222.40" font-size="7.9" font-weight="400" text-anchor="start" fill="#000" textLength="73.5" lengthAdjust="spacingAndGlyphs" >TFPIα, LG1A, FV-s (nM)</text>
<path d="M154.35,223.20 h73.5" stroke="#000" stroke-width="0.6"/>
<path d="M154.35,230.90 h6" stroke="#1d4f8c" stroke-width="1.4" stroke-dasharray="1.2 1.2"/>
<text x="163.25" y="233.40" font-size="7.3" font-weight="400" text-anchor="start" fill="#000" >0</text>
<path d="M154.35,238.95 h5.6" stroke="#164a87" stroke-width="1.4"/>
<text x="163.25" y="241.45" font-size="7.3" font-weight="400" text-anchor="start" fill="#000" >0.5</text>
<path d="M154.35,247.00 h5.6" stroke="#2f639b" stroke-width="1.4"/>
<text x="163.25" y="249.50" font-size="7.3" font-weight="400" text-anchor="start" fill="#000" >1</text>
<path d="M154.35,255.05 h5.6" stroke="#4a7aab" stroke-width="1.4"/>
<text x="163.25" y="257.55" font-size="7.3" font-weight="400" text-anchor="start" fill="#000" >2</text>
<path d="M154.35,263.10 h5.6" stroke="#93adc9" stroke-width="1.4"/>
<text x="163.25" y="265.60" font-size="7.3" font-weight="400" text-anchor="start" fill="#000" >3</text>
<path d="M154.35,271.15 h5.6" stroke="#b5c7dc" stroke-width="1.4"/>
<text x="163.25" y="273.65" font-size="7.3" font-weight="400" text-anchor="start" fill="#000" >4</text>
<clipPath id="clipD"><rect x="318.5" y="187.53" width="110" height="96"/></clipPath>
<text x="285.70" y="178.10" font-size="11" font-weight="700" text-anchor="start" fill="#000" >D</text>
<text x="368.50" y="178.30" font-size="9" font-weight="700" text-anchor="middle" fill="#000" >LG1B</text>
<g clip-path="url(#clipD)" fill="none" stroke-linecap="butt">
<path d="M319.50,281.30 L321.13,281.00 L322.75,280.27 L324.38,279.54 L326.01,278.81 L327.64,278.10 L329.26,277.39 L330.89,276.68 L332.52,275.99 L334.15,275.30 L335.77,274.61 L337.40,273.93 L339.03,273.26 L340.66,272.60 L342.29,271.94 L343.91,271.29 L345.54,270.64 L347.17,270.00 L348.80,269.36 L350.42,268.74 L352.05,268.11 L353.68,267.49 L355.31,266.88 L356.93,266.28 L358.56,265.68 L360.19,265.08 L361.81,264.49 L363.44,263.91 L365.07,263.33 L366.70,262.76 L368.32,262.19 L369.95,261.63 L371.58,261.07 L373.21,260.52 L374.84,259.97 L376.46,259.43 L378.09,258.90 L379.72,258.36 L381.35,257.84 L382.97,257.32 L384.60,256.80 L386.23,256.29 L387.86,255.78 L389.48,255.28 L391.11,254.78 L392.74,254.28 L394.37,253.80 L395.99,253.31 L397.62,252.83 L399.25,252.36 L400.88,251.89 L402.50,251.42 L404.13,250.96 L405.76,250.50 L407.38,250.05 L409.01,249.60 L410.64,249.15 L412.27,248.71 L413.89,248.27 L415.52,247.84 L417.15,247.41" stroke="#eebac6" stroke-width="1.2"/>
<path d="M319.50,281.30 L321.13,280.95 L322.75,280.09 L324.38,279.24 L326.01,278.40 L327.64,277.57 L329.26,276.76 L330.89,275.95 L332.52,275.16 L334.15,274.38 L335.77,273.61 L337.40,272.85 L339.03,272.10 L340.66,271.36 L342.29,270.64 L343.91,269.92 L345.54,269.21 L347.17,268.52 L348.80,267.83 L350.42,267.15 L352.05,266.49 L353.68,265.83 L355.31,265.18 L356.93,264.54 L358.56,263.91 L360.19,263.29 L361.81,262.68 L363.44,262.07 L365.07,261.48 L366.70,260.89 L368.32,260.32 L369.95,259.75 L371.58,259.18 L373.21,258.63 L374.84,258.08 L376.46,257.55 L378.09,257.01 L379.72,256.49 L381.35,255.98 L382.97,255.47 L384.60,254.97 L386.23,254.47 L387.86,253.99 L389.48,253.51 L391.11,253.03 L392.74,252.57 L394.37,252.11 L395.99,251.65 L397.62,251.21 L399.25,250.77 L400.88,250.33 L402.50,249.91 L404.13,249.48 L405.76,249.07 L407.38,248.66 L409.01,248.25 L410.64,247.86 L412.27,247.46 L413.89,247.08 L415.52,246.69 L417.15,246.32" stroke="#e79aac" stroke-width="1.2"/>
<path d="M319.50,281.30 L321.13,280.87 L322.75,279.80 L324.38,278.75 L326.01,277.72 L327.64,276.71 L329.26,275.72 L330.89,274.75 L332.52,273.79 L334.15,272.86 L335.77,271.94 L337.40,271.04 L339.03,270.15 L340.66,269.29 L342.29,268.43 L343.91,267.60 L345.54,266.78 L347.17,265.97 L348.80,265.18 L350.42,264.41 L352.05,263.65 L353.68,262.90 L355.31,262.17 L356.93,261.45 L358.56,260.75 L360.19,260.06 L361.81,259.38 L363.44,258.71 L365.07,258.06 L366.70,257.42 L368.32,256.79 L369.95,256.17 L371.58,255.57 L373.21,254.97 L374.84,254.39 L376.46,253.82 L378.09,253.25 L379.72,252.70 L381.35,252.16 L382.97,251.63 L384.60,251.11 L386.23,250.60 L387.86,250.10 L389.48,249.61 L391.11,249.12 L392.74,248.65 L394.37,248.19 L395.99,247.73 L397.62,247.28 L399.25,246.84 L400.88,246.41 L402.50,245.99 L404.13,245.57 L405.76,245.17 L407.38,244.77 L409.01,244.38 L410.64,243.99 L412.27,243.61 L413.89,243.24 L415.52,242.88 L417.15,242.52" stroke="#d96580" stroke-width="1.2"/>
<path d="M319.50,281.30 L321.13,280.77 L322.75,279.46 L324.38,278.17 L326.01,276.92 L327.64,275.68 L329.26,274.47 L330.89,273.28 L332.52,272.12 L334.15,270.98 L335.77,269.86 L337.40,268.76 L339.03,267.68 L340.66,266.63 L342.29,265.59 L343.91,264.58 L345.54,263.59 L347.17,262.61 L348.80,261.65 L350.42,260.72 L352.05,259.80 L353.68,258.89 L355.31,258.01 L356.93,257.14 L358.56,256.29 L360.19,255.46 L361.81,254.64 L363.44,253.84 L365.07,253.05 L366.70,252.28 L368.32,251.53 L369.95,250.79 L371.58,250.06 L373.21,249.35 L374.84,248.65 L376.46,247.96 L378.09,247.29 L379.72,246.63 L381.35,245.99 L382.97,245.35 L384.60,244.73 L386.23,244.12 L387.86,243.53 L389.48,242.94 L391.11,242.37 L392.74,241.81 L394.37,241.25 L395.99,240.71 L397.62,240.18 L399.25,239.66 L400.88,239.15 L402.50,238.65 L404.13,238.16 L405.76,237.68 L407.38,237.21 L409.01,236.75 L410.64,236.29 L412.27,235.85 L413.89,235.41 L415.52,234.98 L417.15,234.56" stroke="#d0406a" stroke-width="1.2"/>
<path d="M319.50,281.30 L321.13,280.70 L322.75,279.22 L324.38,277.77 L326.01,276.33 L327.64,274.92 L329.26,273.53 L330.89,272.16 L332.52,270.81 L334.15,269.48 L335.77,268.17 L337.40,266.89 L339.03,265.62 L340.66,264.37 L342.29,263.13 L343.91,261.92 L345.54,260.73 L347.17,259.55 L348.80,258.39 L350.42,257.25 L352.05,256.12 L353.68,255.02 L355.31,253.93 L356.93,252.85 L358.56,251.79 L360.19,250.75 L361.81,249.73 L363.44,248.72 L365.07,247.72 L366.70,246.74 L368.32,245.77 L369.95,244.82 L371.58,243.89 L373.21,242.96 L374.84,242.05 L376.46,241.16 L378.09,240.28 L379.72,239.41 L381.35,238.55 L382.97,237.71 L384.60,236.88 L386.23,236.07 L387.86,235.26 L389.48,234.47 L391.11,233.69 L392.74,232.92 L394.37,232.16 L395.99,231.42 L397.62,230.68 L399.25,229.96 L400.88,229.25 L402.50,228.54 L404.13,227.85 L405.76,227.17 L407.38,226.50 L409.01,225.84 L410.64,225.19 L412.27,224.55 L413.89,223.92 L415.52,223.30 L417.15,222.69" stroke="#c0102e" stroke-width="1.3"/>
<path d="M319.50,281.30 L321.13,280.65 L322.75,279.02 L324.38,277.41 L326.01,275.82 L327.64,274.24 L329.26,272.68 L330.89,271.13 L332.52,269.60 L334.15,268.08 L335.77,266.58 L337.40,265.09 L339.03,263.61 L340.66,262.15 L342.29,260.71 L343.91,259.28 L345.54,257.86 L347.17,256.46 L348.80,255.07 L350.42,253.69 L352.05,252.33 L353.68,250.98 L355.31,249.64 L356.93,248.31 L358.56,247.00 L360.19,245.70 L361.81,244.42 L363.44,243.15 L365.07,241.88 L366.70,240.64 L368.32,239.40 L369.95,238.17 L371.58,236.96 L373.21,235.76 L374.84,234.57 L376.46,233.39 L378.09,232.23 L379.72,231.07 L381.35,229.93 L382.97,228.79 L384.60,227.67 L386.23,226.56 L387.86,225.46 L389.48,224.37 L391.11,223.29 L392.74,222.22 L394.37,221.17 L395.99,220.12 L397.62,219.08 L399.25,218.05 L400.88,217.04 L402.50,216.03 L404.13,215.03 L405.76,214.04 L407.38,213.06 L409.01,212.09 L410.64,211.13 L412.27,210.18 L413.89,209.24 L415.52,208.31 L417.15,207.39" stroke="#c8102e" stroke-width="1.3" stroke-dasharray="1.1 1.1"/>
<path d="M319.50,281.30 L321.13,280.65 L322.75,279.02 L324.38,277.41 L326.01,275.81 L327.64,274.23 L329.26,272.66 L330.89,271.11 L332.52,269.56 L334.15,268.04 L335.77,266.53 L337.40,265.03 L339.03,263.54 L340.66,262.07 L342.29,260.61 L343.91,259.16 L345.54,257.73 L347.17,256.31 L348.80,254.90 L350.42,253.50 L352.05,252.12 L353.68,250.75 L355.31,249.39 L356.93,248.05 L358.56,246.71 L360.19,245.39 L361.81,244.08 L363.44,242.78 L365.07,241.49 L366.70,240.22 L368.32,238.96 L369.95,237.70 L371.58,236.46 L373.21,235.23 L374.84,234.01 L376.46,232.80 L378.09,231.61 L379.72,230.42 L381.35,229.24 L382.97,228.08 L384.60,226.92 L386.23,225.78 L387.86,224.64 L389.48,223.52 L391.11,222.41 L392.74,221.30 L394.37,220.21 L395.99,219.12 L397.62,218.05 L399.25,216.98 L400.88,215.93 L402.50,214.88 L404.13,213.84 L405.76,212.82 L407.38,211.80 L409.01,210.79 L410.64,209.79 L412.27,208.80 L413.89,207.82 L415.52,206.84 L417.15,205.88" stroke="#000" stroke-width="1.3" stroke-dasharray="1.1 1.1"/>
<path d="M319.50,281.30 L321.13,280.63 L322.75,278.95 L324.38,277.28 L326.01,275.60 L327.64,273.93 L329.26,272.25 L330.89,270.58 L332.52,268.90 L334.15,267.23 L335.77,265.55 L337.40,263.88 L339.03,262.20 L340.66,260.53 L342.29,258.85 L343.91,257.18 L345.54,255.50 L347.17,253.83 L348.80,252.15 L350.42,250.48 L352.05,248.80 L353.68,247.13 L355.31,245.45 L356.93,243.78 L358.56,242.10 L360.19,240.43 L361.81,238.75 L363.44,237.08 L365.07,235.40 L366.70,233.73 L368.32,232.05 L369.95,230.38 L371.58,228.70 L373.21,227.03 L374.84,225.35 L376.46,223.68 L378.09,222.00 L379.72,220.33 L381.35,218.65 L382.97,216.97 L384.60,215.30 L386.23,213.62 L387.86,211.95 L389.48,210.27 L391.11,208.60 L392.74,206.92 L394.37,205.25 L395.99,203.57 L397.62,201.90 L399.25,200.22 L400.88,198.55 L402.50,196.87 L404.13,195.20 L405.76,193.52 L407.38,191.85 L409.01,190.17 L410.64,188.50 L412.27,186.82 L413.89,185.15 L415.52,183.47 L417.15,181.80" stroke="#000" stroke-width="1.3"/>
</g>
<path d="M316.5,187.63 H319.5 V281.3 H417.15" fill="none" stroke="#333" stroke-width="1.3"/>
<path d="M316.5,250.08 H319.5" stroke="#333" stroke-width="1.2"/>
<path d="M316.5,218.85 H319.5" stroke="#333" stroke-width="1.2"/>
<path d="M316.5,281.3 H319.5" stroke="#333" stroke-width="1.2"/>
<path d="M319.50,281.3 V284.3" stroke="#333" stroke-width="1.2"/>
<text transform="translate(319.50,293.00) scale(0.92,1)" font-size="8.8" font-weight="400" text-anchor="middle" fill="#000" >0</text>
<path d="M352.05,281.3 V284.3" stroke="#333" stroke-width="1.2"/>
<text transform="translate(352.05,293.00) scale(0.92,1)" font-size="8.8" font-weight="400" text-anchor="middle" fill="#000" >10</text>
<path d="M384.60,281.3 V284.3" stroke="#333" stroke-width="1.2"/>
<text transform="translate(384.60,293.00) scale(0.92,1)" font-size="8.8" font-weight="400" text-anchor="middle" fill="#000" >20</text>
<path d="M417.15,281.3 V284.3" stroke="#333" stroke-width="1.2"/>
<text transform="translate(417.15,293.00) scale(0.92,1)" font-size="8.8" font-weight="400" text-anchor="middle" fill="#000" >30</text>
<text transform="translate(313.20,284.00) scale(0.92,1)" font-size="8.8" font-weight="400" text-anchor="end" fill="#000" >0</text>
<text transform="translate(313.20,252.78) scale(0.92,1)" font-size="8.8" font-weight="400" text-anchor="end" fill="#000" >100</text>
<text transform="translate(313.20,221.55) scale(0.92,1)" font-size="8.8" font-weight="400" text-anchor="end" fill="#000" >200</text>
<text transform="translate(313.20,190.33) scale(0.92,1)" font-size="8.8" font-weight="400" text-anchor="end" fill="#000" >300</text>
<text x="368.80" y="304.90" font-size="8.6" font-weight="400" text-anchor="middle" fill="#000" stroke="#000" stroke-width="0.25" textLength="42.7" lengthAdjust="spacingAndGlyphs" >Time (minutes)</text>
<text transform="translate(293.6,234.5) rotate(-90)" x="0" y="0" font-size="9.8" text-anchor="middle" fill="#000" stroke="#000" stroke-width="0.25" textLength="19.8" lengthAdjust="spacingAndGlyphs">mA405</text>
<path d="M434.3,190.94 h5.6" stroke="#000" stroke-width="1.3"/>
<text x="443.00" y="193.54" font-size="7.9" font-weight="400" text-anchor="start" fill="#000" textLength="56.0" lengthAdjust="spacingAndGlyphs" >no TFPIα/PS/FV-s</text>
<path d="M434.3,202.04 h6" stroke="#000" stroke-width="1.3" stroke-dasharray="1.2 1.2"/>
<text x="443.00" y="204.64" font-size="7.9" font-weight="400" text-anchor="start" fill="#000" textLength="17.8" lengthAdjust="spacingAndGlyphs" >TFPIα</text>
<text x="434.30" y="222.40" font-size="7.9" font-weight="400" text-anchor="start" fill="#000" textLength="73.5" lengthAdjust="spacingAndGlyphs" >TFPIα, LG1B, FV-s (nM)</text>
<path d="M434.3,223.20 h73.5" stroke="#000" stroke-width="0.6"/>
<path d="M434.3,230.90 h6" stroke="#c8102e" stroke-width="1.4" stroke-dasharray="1.2 1.2"/>
<text x="443.20" y="233.40" font-size="7.3" font-weight="400" text-anchor="start" fill="#000" >0</text>
<path d="M434.3,238.95 h5.6" stroke="#c0102e" stroke-width="1.4"/>
<text x="443.20" y="241.45" font-size="7.3" font-weight="400" text-anchor="start" fill="#000" >0.5</text>
<path d="M434.3,247.00 h5.6" stroke="#d0406a" stroke-width="1.4"/>
<text x="443.20" y="249.50" font-size="7.3" font-weight="400" text-anchor="start" fill="#000" >1</text>
<path d="M434.3,255.05 h5.6" stroke="#d96580" stroke-width="1.4"/>
<text x="443.20" y="257.55" font-size="7.3" font-weight="400" text-anchor="start" fill="#000" >2</text>
<path d="M434.3,263.10 h5.6" stroke="#e79aac" stroke-width="1.4"/>
<text x="443.20" y="265.60" font-size="7.3" font-weight="400" text-anchor="start" fill="#000" >3</text>
<path d="M434.3,271.15 h5.6" stroke="#eebac6" stroke-width="1.4"/>
<text x="443.20" y="273.65" font-size="7.3" font-weight="400" text-anchor="start" fill="#000" >4</text>
<clipPath id="clipE"><rect x="39.15" y="348.08" width="110" height="96"/></clipPath>
<text x="6.35" y="338.65" font-size="11" font-weight="700" text-anchor="start" fill="#000" >E</text>
<text x="89.15" y="338.85" font-size="9" font-weight="700" text-anchor="middle" fill="#000" >LG1C</text>
<g clip-path="url(#clipE)" fill="none" stroke-linecap="butt">
<path d="M40.15,441.85 L41.78,441.84 L43.41,441.81 L45.03,441.78 L46.66,441.76 L48.29,441.73 L49.91,441.69 L51.54,441.64 L53.17,441.57 L54.80,441.47 L56.42,441.36 L58.05,441.22 L59.68,441.07 L61.31,440.91 L62.94,440.73 L64.56,440.55 L66.19,440.36 L67.82,440.17 L69.44,439.98 L71.07,439.79 L72.70,439.61 L74.33,439.44 L75.96,439.26 L77.58,439.09 L79.21,438.91 L80.84,438.72 L82.47,438.53 L84.09,438.34 L85.72,438.15 L87.35,437.95 L88.97,437.75 L90.60,437.55 L92.23,437.34 L93.86,437.13 L95.49,436.92 L97.11,436.71 L98.74,436.49 L100.37,436.26 L102.00,436.04 L103.62,435.80 L105.25,435.57 L106.88,435.33 L108.50,435.09 L110.13,434.84 L111.76,434.60 L113.39,434.35 L115.02,434.10 L116.64,433.84 L118.27,433.59 L119.90,433.34 L121.53,433.08 L123.15,432.82 L124.78,432.57 L126.41,432.31 L128.03,432.05 L129.66,431.80 L131.29,431.54 L132.92,431.29 L134.55,431.04 L136.17,430.79 L137.80,430.54" stroke="#c5e6c8" stroke-width="1.1"/>
<path d="M40.15,441.85 L41.78,441.84 L43.41,441.81 L45.03,441.78 L46.66,441.76 L48.29,441.73 L49.91,441.69 L51.54,441.64 L53.17,441.57 L54.80,441.47 L56.42,441.36 L58.05,441.22 L59.68,441.07 L61.31,440.91 L62.94,440.73 L64.56,440.55 L66.19,440.36 L67.82,440.17 L69.44,439.98 L71.07,439.79 L72.70,439.61 L74.33,439.44 L75.96,439.26 L77.58,439.09 L79.21,438.91 L80.84,438.72 L82.47,438.53 L84.09,438.34 L85.72,438.15 L87.35,437.95 L88.97,437.75 L90.60,437.55 L92.23,437.34 L93.86,437.13 L95.49,436.92 L97.11,436.71 L98.74,436.49 L100.37,436.26 L102.00,436.04 L103.62,435.80 L105.25,435.57 L106.88,435.33 L108.50,435.09 L110.13,434.84 L111.76,434.60 L113.39,434.35 L115.02,434.10 L116.64,433.84 L118.27,433.59 L119.90,433.34 L121.53,433.08 L123.15,432.82 L124.78,432.57 L126.41,432.31 L128.03,432.05 L129.66,431.80 L131.29,431.54 L132.92,431.29 L134.55,431.04 L136.17,430.79 L137.80,430.54" stroke="#a0d5a5" stroke-width="1.1"/>
<path d="M40.15,441.85 L41.78,441.83 L43.41,441.77 L45.03,441.72 L46.66,441.66 L48.29,441.60 L49.91,441.53 L51.54,441.43 L53.17,441.30 L54.80,441.14 L56.42,440.94 L58.05,440.71 L59.68,440.45 L61.31,440.18 L62.94,439.89 L64.56,439.58 L66.19,439.26 L67.82,438.94 L69.44,438.62 L71.07,438.29 L72.70,437.98 L74.33,437.67 L75.96,437.34 L77.58,437.01 L79.21,436.65 L80.84,436.29 L82.47,435.92 L84.09,435.54 L85.72,435.16 L87.35,434.77 L88.97,434.39 L90.60,434.01 L92.23,433.63 L93.86,433.26 L95.49,432.91 L97.11,432.56 L98.74,432.22 L100.37,431.88 L102.00,431.54 L103.62,431.20 L105.25,430.87 L106.88,430.53 L108.50,430.20 L110.13,429.87 L111.76,429.55 L113.39,429.22 L115.02,428.90 L116.64,428.57 L118.27,428.25 L119.90,427.93 L121.53,427.60 L123.15,427.28 L124.78,426.96 L126.41,426.64 L128.03,426.32 L129.66,426.00 L131.29,425.67 L132.92,425.35 L134.55,425.03 L136.17,424.70 L137.80,424.37" stroke="#74c37b" stroke-width="1.1"/>
<path d="M40.15,441.85 L41.78,441.80 L43.41,441.68 L45.03,441.57 L46.66,441.46 L48.29,441.33 L49.91,441.18 L51.54,440.99 L53.17,440.73 L54.80,440.40 L56.42,440.00 L58.05,439.56 L59.68,439.07 L61.31,438.55 L62.94,438.00 L64.56,437.43 L66.19,436.85 L67.82,436.28 L69.44,435.72 L71.07,435.17 L72.70,434.65 L74.33,434.17 L75.96,433.69 L77.58,433.22 L79.21,432.75 L80.84,432.28 L82.47,431.81 L84.09,431.34 L85.72,430.87 L87.35,430.40 L88.97,429.92 L90.60,429.44 L92.23,428.95 L93.86,428.46 L95.49,427.96 L97.11,427.45 L98.74,426.94 L100.37,426.42 L102.00,425.90 L103.62,425.37 L105.25,424.84 L106.88,424.30 L108.50,423.76 L110.13,423.21 L111.76,422.66 L113.39,422.11 L115.02,421.56 L116.64,421.01 L118.27,420.45 L119.90,419.89 L121.53,419.33 L123.15,418.77 L124.78,418.21 L126.41,417.65 L128.03,417.09 L129.66,416.54 L131.29,415.98 L132.92,415.42 L134.55,414.87 L136.17,414.31 L137.80,413.77" stroke="#52b45c" stroke-width="1.2"/>
<path d="M40.15,441.85 L41.78,441.39 L43.41,440.24 L45.03,439.11 L46.66,438.00 L48.29,436.91 L49.91,435.83 L51.54,434.77 L53.17,433.73 L54.80,432.71 L56.42,431.70 L58.05,430.71 L59.68,429.74 L61.31,428.78 L62.94,427.83 L64.56,426.91 L66.19,425.99 L67.82,425.10 L69.44,424.21 L71.07,423.34 L72.70,422.49 L74.33,421.65 L75.96,420.82 L77.58,420.00 L79.21,419.20 L80.84,418.41 L82.47,417.64 L84.09,416.87 L85.72,416.12 L87.35,415.39 L88.97,414.66 L90.60,413.94 L92.23,413.24 L93.86,412.55 L95.49,411.87 L97.11,411.20 L98.74,410.54 L100.37,409.89 L102.00,409.25 L103.62,408.63 L105.25,408.01 L106.88,407.40 L108.50,406.81 L110.13,406.22 L111.76,405.64 L113.39,405.07 L115.02,404.51 L116.64,403.96 L118.27,403.42 L119.90,402.89 L121.53,402.36 L123.15,401.85 L124.78,401.34 L126.41,400.84 L128.03,400.35 L129.66,399.87 L131.29,399.39 L132.92,398.92 L134.55,398.46 L136.17,398.01 L137.80,397.57" stroke="#3aa948" stroke-width="1.3"/>
<path d="M40.15,441.85 L41.78,441.20 L43.41,439.61 L45.03,438.04 L46.66,436.50 L48.29,434.99 L49.91,433.51 L51.54,432.05 L53.17,430.62 L54.80,429.22 L56.42,427.84 L58.05,426.48 L59.68,425.15 L61.31,423.85 L62.94,422.57 L64.56,421.31 L66.19,420.07 L67.82,418.86 L69.44,417.67 L71.07,416.50 L72.70,415.35 L74.33,414.22 L75.96,413.11 L77.58,412.03 L79.21,410.96 L80.84,409.91 L82.47,408.88 L84.09,407.87 L85.72,406.88 L87.35,405.90 L88.97,404.95 L90.60,404.01 L92.23,403.08 L93.86,402.18 L95.49,401.29 L97.11,400.42 L98.74,399.56 L100.37,398.72 L102.00,397.89 L103.62,397.08 L105.25,396.28 L106.88,395.50 L108.50,394.73 L110.13,393.97 L111.76,393.23 L113.39,392.51 L115.02,391.79 L116.64,391.09 L118.27,390.40 L119.90,389.73 L121.53,389.06 L123.15,388.41 L124.78,387.77 L126.41,387.14 L128.03,386.52 L129.66,385.92 L131.29,385.32 L132.92,384.74 L134.55,384.17 L136.17,383.60 L137.80,383.05" stroke="#55b55c" stroke-width="1.3" stroke-dasharray="1.1 1.1"/>
<path d="M40.15,441.85 L41.78,441.20 L43.41,439.57 L45.03,437.96 L46.66,436.36 L48.29,434.78 L49.91,433.21 L51.54,431.66 L53.17,430.11 L54.80,428.59 L56.42,427.08 L58.05,425.58 L59.68,424.09 L61.31,422.62 L62.94,421.16 L64.56,419.71 L66.19,418.28 L67.82,416.86 L69.44,415.45 L71.07,414.05 L72.70,412.67 L74.33,411.30 L75.96,409.94 L77.58,408.60 L79.21,407.26 L80.84,405.94 L82.47,404.63 L84.09,403.33 L85.72,402.04 L87.35,400.77 L88.97,399.51 L90.60,398.25 L92.23,397.01 L93.86,395.78 L95.49,394.56 L97.11,393.35 L98.74,392.16 L100.37,390.97 L102.00,389.79 L103.62,388.63 L105.25,387.47 L106.88,386.33 L108.50,385.19 L110.13,384.07 L111.76,382.96 L113.39,381.85 L115.02,380.76 L116.64,379.67 L118.27,378.60 L119.90,377.53 L121.53,376.48 L123.15,375.43 L124.78,374.39 L126.41,373.37 L128.03,372.35 L129.66,371.34 L131.29,370.34 L132.92,369.35 L134.55,368.37 L136.17,367.39 L137.80,366.43" stroke="#000" stroke-width="1.3" stroke-dasharray="1.1 1.1"/>
<path d="M40.15,441.85 L41.78,441.18 L43.41,439.50 L45.03,437.83 L46.66,436.15 L48.29,434.48 L49.91,432.80 L51.54,431.13 L53.17,429.45 L54.80,427.78 L56.42,426.10 L58.05,424.43 L59.68,422.75 L61.31,421.08 L62.94,419.40 L64.56,417.73 L66.19,416.05 L67.82,414.38 L69.44,412.70 L71.07,411.03 L72.70,409.35 L74.33,407.68 L75.96,406.00 L77.58,404.33 L79.21,402.65 L80.84,400.98 L82.47,399.30 L84.09,397.63 L85.72,395.95 L87.35,394.28 L88.97,392.60 L90.60,390.93 L92.23,389.25 L93.86,387.58 L95.49,385.90 L97.11,384.23 L98.74,382.55 L100.37,380.88 L102.00,379.20 L103.62,377.52 L105.25,375.85 L106.88,374.17 L108.50,372.50 L110.13,370.82 L111.76,369.15 L113.39,367.47 L115.02,365.80 L116.64,364.12 L118.27,362.45 L119.90,360.77 L121.53,359.10 L123.15,357.42 L124.78,355.75 L126.41,354.07 L128.03,352.40 L129.66,350.72 L131.29,349.05 L132.92,347.37 L134.55,345.70 L136.17,344.02 L137.80,342.35" stroke="#000" stroke-width="1.3"/>
</g>
<path d="M37.15,348.18 H40.15 V441.85 H137.8" fill="none" stroke="#333" stroke-width="1.3"/>
<path d="M37.15,410.63 H40.15" stroke="#333" stroke-width="1.2"/>
<path d="M37.15,379.40 H40.15" stroke="#333" stroke-width="1.2"/>
<path d="M37.15,441.85 H40.15" stroke="#333" stroke-width="1.2"/>
<path d="M40.15,441.85 V444.85" stroke="#333" stroke-width="1.2"/>
<text transform="translate(40.15,453.55) scale(0.92,1)" font-size="8.8" font-weight="400" text-anchor="middle" fill="#000" >0</text>
<path d="M72.70,441.85 V444.85" stroke="#333" stroke-width="1.2"/>
<text transform="translate(72.70,453.55) scale(0.92,1)" font-size="8.8" font-weight="400" text-anchor="middle" fill="#000" >10</text>
<path d="M105.25,441.85 V444.85" stroke="#333" stroke-width="1.2"/>
<text transform="translate(105.25,453.55) scale(0.92,1)" font-size="8.8" font-weight="400" text-anchor="middle" fill="#000" >20</text>
<path d="M137.80,441.85 V444.85" stroke="#333" stroke-width="1.2"/>
<text transform="translate(137.80,453.55) scale(0.92,1)" font-size="8.8" font-weight="400" text-anchor="middle" fill="#000" >30</text>
<text transform="translate(33.85,444.55) scale(0.92,1)" font-size="8.8" font-weight="400" text-anchor="end" fill="#000" >0</text>
<text transform="translate(33.85,413.33) scale(0.92,1)" font-size="8.8" font-weight="400" text-anchor="end" fill="#000" >100</text>
<text transform="translate(33.85,382.10) scale(0.92,1)" font-size="8.8" font-weight="400" text-anchor="end" fill="#000" >200</text>
<text transform="translate(33.85,350.88) scale(0.92,1)" font-size="8.8" font-weight="400" text-anchor="end" fill="#000" >300</text>
<text x="89.45" y="465.45" font-size="8.6" font-weight="400" text-anchor="middle" fill="#000" stroke="#000" stroke-width="0.25" textLength="42.7" lengthAdjust="spacingAndGlyphs" >Time (minutes)</text>
<text transform="translate(14.25,395.05) rotate(-90)" x="0" y="0" font-size="9.8" text-anchor="middle" fill="#000" stroke="#000" stroke-width="0.25" textLength="19.8" lengthAdjust="spacingAndGlyphs">mA405</text>
<path d="M154.35,351.49 h5.6" stroke="#000" stroke-width="1.3"/>
<text x="163.05" y="354.09" font-size="7.9" font-weight="400" text-anchor="start" fill="#000" textLength="56.0" lengthAdjust="spacingAndGlyphs" >no TFPIα/PS/FV-s</text>
<path d="M154.35,362.59 h6" stroke="#000" stroke-width="1.3" stroke-dasharray="1.2 1.2"/>
<text x="163.05" y="365.19" font-size="7.9" font-weight="400" text-anchor="start" fill="#000" textLength="17.8" lengthAdjust="spacingAndGlyphs" >TFPIα</text>
<text x="154.35" y="382.95" font-size="7.9" font-weight="400" text-anchor="start" fill="#000" textLength="74.5" lengthAdjust="spacingAndGlyphs" >TFPIα, LG1C, FV-s (nM)</text>
<path d="M154.35,383.75 h74.5" stroke="#000" stroke-width="0.6"/>
<path d="M154.35,391.45 h6" stroke="#55b55c" stroke-width="1.4" stroke-dasharray="1.2 1.2"/>
<text x="163.25" y="393.95" font-size="7.3" font-weight="400" text-anchor="start" fill="#000" >0</text>
<path d="M154.35,399.50 h5.6" stroke="#3aa948" stroke-width="1.4"/>
<text x="163.25" y="402.00" font-size="7.3" font-weight="400" text-anchor="start" fill="#000" >0.5</text>
<path d="M154.35,407.55 h5.6" stroke="#52b45c" stroke-width="1.4"/>
<text x="163.25" y="410.05" font-size="7.3" font-weight="400" text-anchor="start" fill="#000" >1</text>
<path d="M154.35,415.60 h5.6" stroke="#74c37b" stroke-width="1.4"/>
<text x="163.25" y="418.10" font-size="7.3" font-weight="400" text-anchor="start" fill="#000" >2</text>
<path d="M154.35,423.65 h5.6" stroke="#a0d5a5" stroke-width="1.4"/>
<text x="163.25" y="426.15" font-size="7.3" font-weight="400" text-anchor="start" fill="#000" >3</text>
<path d="M154.35,431.70 h5.6" stroke="#c5e6c8" stroke-width="1.4"/>
<text x="163.25" y="434.20" font-size="7.3" font-weight="400" text-anchor="start" fill="#000" >4</text>
<text x="286.50" y="338.45" font-size="11" font-weight="700" text-anchor="start" fill="#000" >F</text>
<path d="M316.5,348.3 H319.5 V441.85 H421.78" fill="none" stroke="#333" stroke-width="1.3"/>
<path d="M316.5,441.85 H319.5" stroke="#333" stroke-width="1.2"/>
<path d="M316.5,410.67 H319.5" stroke="#333" stroke-width="1.2"/>
<path d="M316.5,379.48 H319.5" stroke="#333" stroke-width="1.2"/>
<text transform="translate(313.20,444.55) scale(0.92,1)" font-size="8.8" font-weight="400" text-anchor="end" fill="#000" >0</text>
<text transform="translate(313.20,413.37) scale(0.92,1)" font-size="8.8" font-weight="400" text-anchor="end" fill="#000" >50</text>
<text transform="translate(313.20,382.18) scale(0.92,1)" font-size="8.8" font-weight="400" text-anchor="end" fill="#000" >100</text>
<text transform="translate(313.20,351.00) scale(0.92,1)" font-size="8.8" font-weight="400" text-anchor="end" fill="#000" >150</text>
<path d="M319.50,441.85 V444.85" stroke="#333" stroke-width="1.2"/>
<text transform="translate(319.50,453.55) scale(0.92,1)" font-size="8.8" font-weight="400" text-anchor="middle" fill="#000" >0</text>
<path d="M344.07,441.85 V444.85" stroke="#333" stroke-width="1.2"/>
<text transform="translate(344.07,453.55) scale(0.92,1)" font-size="8.8" font-weight="400" text-anchor="middle" fill="#000" >1</text>
<path d="M368.64,441.85 V444.85" stroke="#333" stroke-width="1.2"/>
<text transform="translate(368.64,453.55) scale(0.92,1)" font-size="8.8" font-weight="400" text-anchor="middle" fill="#000" >2</text>
<path d="M393.21,441.85 V444.85" stroke="#333" stroke-width="1.2"/>
<text transform="translate(393.21,453.55) scale(0.92,1)" font-size="8.8" font-weight="400" text-anchor="middle" fill="#000" >3</text>
<path d="M417.78,441.85 V444.85" stroke="#333" stroke-width="1.2"/>
<text transform="translate(417.78,453.55) scale(0.92,1)" font-size="8.8" font-weight="400" text-anchor="middle" fill="#000" >4</text>
<text x="368.30" y="466.45" font-size="8.6" font-weight="400" text-anchor="middle" fill="#000" stroke="#000" stroke-width="0.25" textLength="40.0" lengthAdjust="spacingAndGlyphs" >FV-short (nM)</text>
<text transform="translate(293.9,394.45000000000005) rotate(-90)" font-size="9.2" text-anchor="middle" fill="#000" stroke="#000" stroke-width="0.25" textLength="44" lengthAdjust="spacingAndGlyphs">Relative V<tspan font-size="5" dy="1.5">0</tspan><tspan dy="-1.5"> (%)</tspan></text>
<path d="M331.79,403.18 V385.10 M329.49,403.18 h4.6 M329.49,385.10 h4.6" stroke="#3db049" stroke-width="1.0" fill="none"/>
<path d="M344.07,413.79 V406.30 M341.77,413.79 h4.6 M341.77,406.30 h4.6" stroke="#3db049" stroke-width="1.0" fill="none"/>
<path d="M368.64,440.04 V417.65 M366.34,440.04 h4.6 M366.34,417.65 h4.6" stroke="#3db049" stroke-width="1.0" fill="none"/>
<path d="M393.21,439.54 V417.53 M390.91,439.54 h4.6 M390.91,417.53 h4.6" stroke="#3db049" stroke-width="1.0" fill="none"/>
<path d="M417.78,441.23 V423.45 M415.48,441.23 h4.6 M415.48,423.45 h4.6" stroke="#3db049" stroke-width="1.0" fill="none"/>
<path d="M331.79,406.11 V390.71 M329.49,406.11 h4.6 M329.49,390.71 h4.6" stroke="#000" stroke-width="1.0" fill="none"/>
<path d="M344.07,418.28 V404.74 M341.77,418.28 h4.6 M341.77,404.74 h4.6" stroke="#000" stroke-width="1.0" fill="none"/>
<path d="M368.64,441.23 V426.26 M366.34,441.23 h4.6 M366.34,426.26 h4.6" stroke="#000" stroke-width="1.0" fill="none"/>
<path d="M393.21,441.35 V426.45 M390.91,441.35 h4.6 M390.91,426.45 h4.6" stroke="#000" stroke-width="1.0" fill="none"/>
<path d="M417.78,438.73 V428.13 M415.48,438.73 h4.6 M415.48,428.13 h4.6" stroke="#000" stroke-width="1.0" fill="none"/>
<path d="M331.79,403.00 V388.84 M329.49,403.00 h4.6 M329.49,388.84 h4.6" stroke="#1f5a96" stroke-width="1.0" fill="none"/>
<path d="M344.07,416.53 V402.25 M341.77,416.53 h4.6 M341.77,402.25 h4.6" stroke="#1f5a96" stroke-width="1.0" fill="none"/>
<path d="M368.64,430.00 V420.46 M366.34,430.00 h4.6 M366.34,420.46 h4.6" stroke="#1f5a96" stroke-width="1.0" fill="none"/>
<path d="M393.21,434.37 V425.63 M390.91,434.37 h4.6 M390.91,425.63 h4.6" stroke="#1f5a96" stroke-width="1.0" fill="none"/>
<path d="M417.78,432.50 V425.01 M415.48,432.50 h4.6 M415.48,425.01 h4.6" stroke="#1f5a96" stroke-width="1.0" fill="none"/>
<path d="M331.79,388.21 V379.80 M329.49,388.21 h4.6 M329.49,379.80 h4.6" stroke="#c8102e" stroke-width="1.0" fill="none"/>
<path d="M344.07,395.32 V379.48 M341.77,395.32 h4.6 M341.77,379.48 h4.6" stroke="#c8102e" stroke-width="1.0" fill="none"/>
<path d="M368.64,399.25 V387.59 M366.34,399.25 h4.6 M366.34,387.59 h4.6" stroke="#c8102e" stroke-width="1.0" fill="none"/>
<path d="M393.21,402.68 V397.44 M390.91,402.68 h4.6 M390.91,397.44 h4.6" stroke="#c8102e" stroke-width="1.0" fill="none"/>
<path d="M331.79,387.28 V352.04 M329.49,387.28 h4.6 M329.49,352.04 h4.6" stroke="#f7941d" stroke-width="1.0" fill="none"/>
<path d="M344.07,384.47 V365.14 M341.77,384.47 h4.6 M341.77,365.14 h4.6" stroke="#f7941d" stroke-width="1.0" fill="none"/>
<path d="M368.64,387.84 V354.29 M366.34,387.84 h4.6 M366.34,354.29 h4.6" stroke="#f7941d" stroke-width="1.0" fill="none"/>
<path d="M393.21,384.41 V364.52 M390.91,384.41 h4.6 M390.91,364.52 h4.6" stroke="#f7941d" stroke-width="1.0" fill="none"/>
<path d="M417.78,381.35 V366.57 M415.48,381.35 h4.6 M415.48,366.57 h4.6" stroke="#f7941d" stroke-width="1.0" fill="none"/>
<path d="M319.50,379.48 L320.73,380.99 L321.96,382.51 L323.19,384.04 L324.41,385.57 L325.64,387.09 L326.87,388.61 L328.10,390.11 L329.33,391.59 L330.56,393.04 L331.79,394.45 L333.01,395.85 L334.24,397.25 L335.47,398.63 L336.70,400.01 L337.93,401.36 L339.16,402.68 L340.38,403.96 L341.61,405.21 L342.84,406.41 L344.07,407.55 L345.30,408.65 L346.53,409.72 L347.76,410.76 L348.98,411.77 L350.21,412.76 L351.44,413.71 L352.67,414.64 L353.90,415.53 L355.13,416.39 L356.36,417.22 L357.58,418.03 L358.81,418.84 L360.04,419.64 L361.27,420.42 L362.50,421.18 L363.73,421.89 L364.95,422.56 L366.18,423.18 L367.41,423.72 L368.64,424.20 L369.87,424.63 L371.10,425.04 L372.33,425.43 L373.55,425.80 L374.78,426.16 L376.01,426.51 L377.24,426.84 L378.47,427.16 L379.70,427.46 L380.93,427.75 L382.15,428.03 L383.38,428.30 L384.61,428.56 L385.84,428.81 L387.07,429.05 L388.30,429.28 L389.52,429.50 L390.75,429.72 L391.98,429.92 L393.21,430.13 L394.44,430.32 L395.67,430.50 L396.90,430.68 L398.12,430.85 L399.35,431.01 L400.58,431.17 L401.81,431.32 L403.04,431.46 L404.27,431.61 L405.50,431.74 L406.72,431.88 L407.95,432.02 L409.18,432.15 L410.41,432.28 L411.64,432.42 L412.87,432.55 L414.09,432.69 L415.32,432.83 L416.55,432.97 L417.78,433.12" fill="none" stroke="#3db049" stroke-width="1.4"/>
<path d="M319.50,379.48 L320.73,381.56 L321.96,383.55 L323.19,385.47 L324.41,387.32 L325.64,389.10 L326.87,390.80 L328.10,392.45 L329.33,394.03 L330.56,395.54 L331.79,397.01 L333.01,398.41 L334.24,399.76 L335.47,401.06 L336.70,402.31 L337.93,403.51 L339.16,404.67 L340.38,405.78 L341.61,406.85 L342.84,407.88 L344.07,408.87 L345.30,409.82 L346.53,410.74 L347.76,411.62 L348.98,412.46 L350.21,413.28 L351.44,414.06 L352.67,414.81 L353.90,415.54 L355.13,416.23 L356.36,416.90 L357.58,417.55 L358.81,418.17 L360.04,418.76 L361.27,419.33 L362.50,419.89 L363.73,420.42 L364.95,420.93 L366.18,421.42 L367.41,421.89 L368.64,422.34 L369.87,422.78 L371.10,423.20 L372.33,423.60 L373.55,423.99 L374.78,424.36 L376.01,424.72 L377.24,425.06 L378.47,425.40 L379.70,425.72 L380.93,426.02 L382.15,426.32 L383.38,426.60 L384.61,426.88 L385.84,427.14 L387.07,427.39 L388.30,427.63 L389.52,427.87 L390.75,428.09 L391.98,428.31 L393.21,428.52 L394.44,428.72 L395.67,428.91 L396.90,429.09 L398.12,429.27 L399.35,429.44 L400.58,429.61 L401.81,429.76 L403.04,429.92 L404.27,430.06 L405.50,430.20 L406.72,430.34 L407.95,430.47 L409.18,430.59 L410.41,430.71 L411.64,430.83 L412.87,430.94 L414.09,431.05 L415.32,431.15 L416.55,431.25 L417.78,431.35" fill="none" stroke="#1f5a96" stroke-width="1.4"/>
<path d="M319.50,379.48 L320.73,381.52 L321.96,383.62 L323.19,385.76 L324.41,387.91 L325.64,390.04 L326.87,392.12 L328.10,394.13 L329.33,396.04 L330.56,397.82 L331.79,399.44 L333.01,400.94 L334.24,402.38 L335.47,403.75 L336.70,405.07 L337.93,406.33 L339.16,407.54 L340.38,408.70 L341.61,409.81 L342.84,410.88 L344.07,411.91 L345.30,412.91 L346.53,413.87 L347.76,414.80 L348.98,415.70 L350.21,416.57 L351.44,417.40 L352.67,418.21 L353.90,418.99 L355.13,419.74 L356.36,420.46 L357.58,421.17 L358.81,421.87 L360.04,422.56 L361.27,423.23 L362.50,423.88 L363.73,424.50 L364.95,425.07 L366.18,425.60 L367.41,426.09 L368.64,426.51 L369.87,426.89 L371.10,427.27 L372.33,427.63 L373.55,427.98 L374.78,428.32 L376.01,428.64 L377.24,428.96 L378.47,429.26 L379.70,429.55 L380.93,429.83 L382.15,430.09 L383.38,430.35 L384.61,430.59 L385.84,430.82 L387.07,431.03 L388.30,431.24 L389.52,431.43 L390.75,431.61 L391.98,431.78 L393.21,431.93 L394.44,432.08 L395.67,432.21 L396.90,432.34 L398.12,432.46 L399.35,432.58 L400.58,432.69 L401.81,432.79 L403.04,432.89 L404.27,432.99 L405.50,433.08 L406.72,433.17 L407.95,433.26 L409.18,433.35 L410.41,433.43 L411.64,433.52 L412.87,433.61 L414.09,433.70 L415.32,433.79 L416.55,433.89 L417.78,433.99" fill="none" stroke="#000" stroke-width="1.4"/>
<path d="M319.50,379.48 L320.73,379.90 L321.96,380.31 L323.19,380.72 L324.41,381.12 L325.64,381.52 L326.87,381.92 L328.10,382.32 L329.33,382.71 L330.56,383.11 L331.79,383.50 L333.01,383.88 L334.24,384.27 L335.47,384.65 L336.70,385.03 L337.93,385.40 L339.16,385.78 L340.38,386.15 L341.61,386.52 L342.84,386.89 L344.07,387.25 L345.30,387.61 L346.53,387.97 L347.76,388.33 L348.98,388.68 L350.21,389.04 L351.44,389.39 L352.67,389.73 L353.90,390.08 L355.13,390.42 L356.36,390.76 L357.58,391.10 L358.81,391.44 L360.04,391.77 L361.27,392.10 L362.50,392.43 L363.73,392.76 L364.95,393.09 L366.18,393.41 L367.41,393.73 L368.64,394.05 L369.87,394.37 L371.10,394.68 L372.33,394.99 L373.55,395.30 L374.78,395.61 L376.01,395.92 L377.24,396.22 L378.47,396.53 L379.70,396.83 L380.93,397.13 L382.15,397.42 L383.38,397.72 L384.61,398.01 L385.84,398.30 L387.07,398.59 L388.30,398.87 L389.52,399.16 L390.75,399.44 L391.98,399.72 L393.21,400.00 L394.44,400.28 L395.67,400.56 L396.90,400.83 L398.12,401.10 L399.35,401.37 L400.58,401.64 L401.81,401.91 L403.04,402.17 L404.27,402.43 L405.50,402.69 L406.72,402.95 L407.95,403.21 L409.18,403.47 L410.41,403.72 L411.64,403.98 L412.87,404.23 L414.09,404.48 L415.32,404.72 L416.55,404.97 L417.78,405.21" fill="none" stroke="#c8102e" stroke-width="1.4"/>
<path d="M319.50,374.74 L320.73,374.72 L321.96,374.71 L323.19,374.69 L324.41,374.67 L325.64,374.65 L326.87,374.63 L328.10,374.61 L329.33,374.59 L330.56,374.58 L331.79,374.56 L333.01,374.54 L334.24,374.52 L335.47,374.50 L336.70,374.48 L337.93,374.46 L339.16,374.44 L340.38,374.43 L341.61,374.41 L342.84,374.39 L344.07,374.37 L345.30,374.35 L346.53,374.33 L347.76,374.31 L348.98,374.29 L350.21,374.28 L351.44,374.26 L352.67,374.24 L353.90,374.22 L355.13,374.20 L356.36,374.18 L357.58,374.16 L358.81,374.14 L360.04,374.13 L361.27,374.11 L362.50,374.09 L363.73,374.07 L364.95,374.05 L366.18,374.03 L367.41,374.01 L368.64,374.00 L369.87,373.98 L371.10,373.96 L372.33,373.94 L373.55,373.92 L374.78,373.90 L376.01,373.88 L377.24,373.86 L378.47,373.85 L379.70,373.83 L380.93,373.81 L382.15,373.79 L383.38,373.77 L384.61,373.75 L385.84,373.73 L387.07,373.71 L388.30,373.70 L389.52,373.68 L390.75,373.66 L391.98,373.64 L393.21,373.62 L394.44,373.60 L395.67,373.58 L396.90,373.56 L398.12,373.55 L399.35,373.53 L400.58,373.51 L401.81,373.49 L403.04,373.47 L404.27,373.45 L405.50,373.43 L406.72,373.42 L407.95,373.40 L409.18,373.38 L410.41,373.36 L411.64,373.34 L412.87,373.32 L414.09,373.30 L415.32,373.28 L416.55,373.27 L417.78,373.25" fill="none" stroke="#f7941d" stroke-width="1.4"/>
<path d="M319.50,381.88 L321.80,377.68 L317.20,377.68 Z" fill="#3db049"/>
<path d="M331.79,398.72 L334.09,394.52 L329.49,394.52 Z" fill="#3db049"/>
<path d="M344.07,412.44 L346.37,408.24 L341.77,408.24 Z" fill="#3db049"/>
<path d="M368.64,431.15 L370.94,426.95 L366.34,426.95 Z" fill="#3db049"/>
<path d="M393.21,434.27 L395.51,430.07 L390.91,430.07 Z" fill="#3db049"/>
<path d="M417.78,433.65 L420.08,429.45 L415.48,429.45 Z" fill="#3db049"/>
<circle cx="319.50" cy="379.48" r="2.2" fill="#000"/>
<circle cx="331.79" cy="398.51" r="2.2" fill="#000"/>
<circle cx="344.07" cy="411.60" r="2.2" fill="#000"/>
<circle cx="368.64" cy="432.18" r="2.2" fill="#000"/>
<circle cx="393.21" cy="433.37" r="2.2" fill="#000"/>
<circle cx="417.78" cy="430.75" r="2.2" fill="#000"/>
<rect x="317.50" y="377.48" width="4.0" height="4.0" fill="#1f5a96"/>
<rect x="329.79" y="392.76" width="4.0" height="4.0" fill="#1f5a96"/>
<rect x="342.07" y="406.48" width="4.0" height="4.0" fill="#1f5a96"/>
<rect x="366.64" y="422.89" width="4.0" height="4.0" fill="#1f5a96"/>
<rect x="391.21" y="428.31" width="4.0" height="4.0" fill="#1f5a96"/>
<rect x="415.78" y="426.44" width="4.0" height="4.0" fill="#1f5a96"/>
<path d="M319.50,377.18 L321.70,381.18 L317.30,381.18 Z" fill="#c8102e"/>
<path d="M331.79,381.86 L333.99,385.86 L329.59,385.86 Z" fill="#c8102e"/>
<path d="M344.07,385.91 L346.27,389.91 L341.87,389.91 Z" fill="#c8102e"/>
<path d="M368.64,391.47 L370.84,395.47 L366.44,395.47 Z" fill="#c8102e"/>
<path d="M393.21,398.39 L395.41,402.39 L391.01,402.39 Z" fill="#c8102e"/>
<path d="M417.78,403.19 L419.98,407.19 L415.58,407.19 Z" fill="#c8102e"/>
<path d="M319.50,377.28 L321.70,379.48 L319.50,381.68 L317.30,379.48 Z" fill="#f7941d"/>
<path d="M331.79,367.43 L333.99,369.63 L331.79,371.83 L329.59,369.63 Z" fill="#f7941d"/>
<path d="M344.07,372.29 L346.27,374.49 L344.07,376.69 L341.87,374.49 Z" fill="#f7941d"/>
<path d="M368.64,368.55 L370.84,370.75 L368.64,372.95 L366.44,370.75 Z" fill="#f7941d"/>
<path d="M393.21,371.86 L395.41,374.06 L393.21,376.26 L391.01,374.06 Z" fill="#f7941d"/>
<path d="M417.78,371.67 L419.98,373.87 L417.78,376.07 L415.58,373.87 Z" fill="#f7941d"/>
<text x="442.10" y="354.00" font-size="7.9" font-weight="400" text-anchor="start" fill="#000" textLength="70.2" lengthAdjust="spacingAndGlyphs" >EC<tspan font-size="5" dy="1.3">50</tspan><tspan dy="-1.3"> (nM): mean ± SD</tspan></text>
<path d="M442.1,355.2 h70.2" stroke="#000" stroke-width="0.6"/>
<path d="M430.9,365.40 h8.5" stroke="#f7941d" stroke-width="1.3"/>
<path d="M435.20,363.00 L437.60,365.40 L435.20,367.80 L432.80,365.40 Z" fill="#f7941d"/>
<text x="442.10" y="368.10" font-size="7.9" font-weight="400" text-anchor="start" fill="#000" textLength="35.0" lengthAdjust="spacingAndGlyphs" >no PS N.M.</text>
<path d="M430.9,376.75 h8.5" stroke="#c8102e" stroke-width="1.3"/>
<path d="M435.20,374.35 L437.50,378.55 L432.90,378.55 Z" fill="#c8102e"/>
<text x="442.10" y="379.45" font-size="7.9" font-weight="400" text-anchor="start" fill="#000" textLength="35.0" lengthAdjust="spacingAndGlyphs" >LG1B N.M.</text>
<path d="M430.9,388.10 h8.5" stroke="#3db049" stroke-width="1.3"/>
<path d="M435.20,390.50 L437.50,386.30 L432.90,386.30 Z" fill="#3db049"/>
<text x="442.10" y="390.80" font-size="7.9" font-weight="400" text-anchor="start" fill="#000" textLength="56.7" lengthAdjust="spacingAndGlyphs" >LG1C 1.03 ± 0.47</text>
<path d="M430.9,399.45 h8.5" stroke="#1f5a96" stroke-width="1.3"/>
<rect x="433.20" y="397.45" width="4.0" height="4.0" fill="#1f5a96"/>
<text x="442.10" y="402.15" font-size="7.9" font-weight="400" text-anchor="start" fill="#000" textLength="56.7" lengthAdjust="spacingAndGlyphs" >LG1A 0.91 ± 0.37</text>
<path d="M430.9,410.80 h8.5" stroke="#000" stroke-width="1.3"/>
<circle cx="435.20" cy="410.80" r="2.0" fill="#000"/>
<text x="442.10" y="413.50" font-size="7.9" font-weight="400" text-anchor="start" fill="#000" >WT</text>
<text x="463.30" y="413.50" font-size="7.9" font-weight="400" text-anchor="start" fill="#000" textLength="35.5" lengthAdjust="spacingAndGlyphs" >0.71 ± 0.25</text>
<rect x="0" y="0" width="520" height="1" fill="#000"/><rect x="0" y="472" width="520" height="1" fill="#000"/><rect x="0" y="0" width="1" height="473" fill="#000"/><rect x="519" y="0" width="1" height="473" fill="#000"/>
</svg></body></html>
